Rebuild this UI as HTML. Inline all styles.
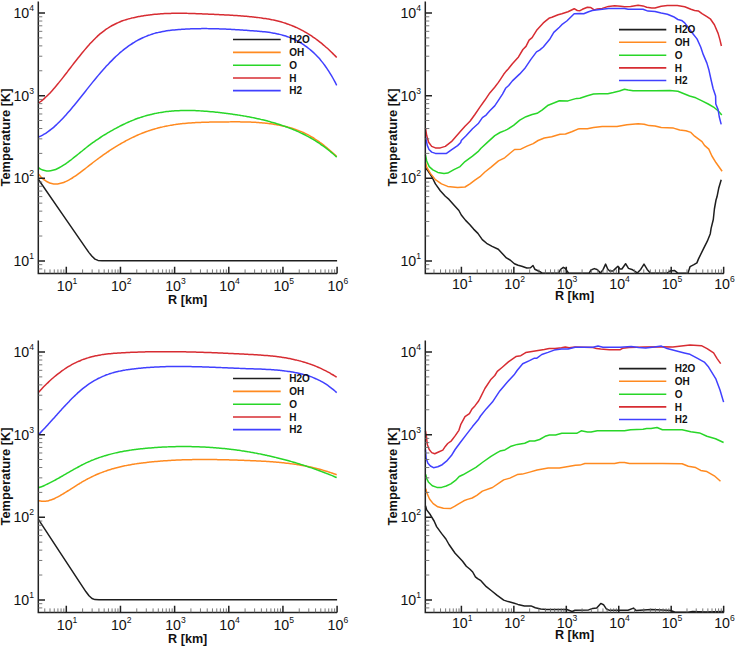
<!DOCTYPE html>
<html><head><meta charset="utf-8"><style>
html,body{margin:0;padding:0;background:#fff;}
body{width:735px;height:647px;overflow:hidden;}
svg{display:block;font-family:"Liberation Sans", sans-serif;}
</style></head><body>
<svg width="735" height="647" viewBox="0 0 735 647" fill="#111">
<path d="M38.3 179.2L62 213.6L86 248.4L89 252.6L92 256.3L95 259.1L98 260.4L102 260.7L337.1 260.7" fill="none" stroke="#1e1e1e" stroke-width="1.5" stroke-linejoin="round"/>
<path d="M38.7 174.33C39.03 174.72 40.03 175.93 40.7 176.64C41.37 177.35 42.03 178 42.7 178.59C43.37 179.19 44.03 179.73 44.7 180.22C45.37 180.7 46.03 181.14 46.7 181.52C47.37 181.91 48.03 182.24 48.7 182.53C49.37 182.82 50.03 183.06 50.7 183.26C51.37 183.46 52.03 183.61 52.7 183.72C53.37 183.83 54.03 183.9 54.7 183.94C55.37 183.97 56.03 183.97 56.7 183.93C57.37 183.89 58.03 183.81 58.7 183.71C59.37 183.6 60.03 183.46 60.7 183.3C61.37 183.13 62.03 182.93 62.7 182.71C63.37 182.49 64.03 182.24 64.7 181.96C65.37 181.69 66.03 181.39 66.7 181.08C67.37 180.76 68.03 180.43 68.7 180.07C69.37 179.72 70.03 179.34 70.7 178.95C71.37 178.57 72.03 178.16 72.7 177.74C73.37 177.32 74.03 176.88 74.7 176.44C75.37 175.99 76.03 175.53 76.7 175.06C77.37 174.59 78.03 174.11 78.7 173.62C79.37 173.13 80.03 172.63 80.7 172.13C81.37 171.63 82.03 171.12 82.7 170.6C83.37 170.09 84.03 169.56 84.7 169.04C85.37 168.52 86.03 167.99 86.7 167.47C87.37 166.94 88.03 166.41 88.7 165.89C89.37 165.36 90.03 164.84 90.7 164.32C91.37 163.8 92.03 163.28 92.7 162.76C93.37 162.25 94.03 161.74 94.7 161.23C95.37 160.73 96.03 160.23 96.7 159.73C97.37 159.23 98.03 158.74 98.7 158.25C99.37 157.76 100.03 157.28 100.7 156.8C101.37 156.32 102.03 155.84 102.7 155.37C103.37 154.9 104.03 154.43 104.7 153.97C105.37 153.5 106.03 153.05 106.7 152.59C107.37 152.14 108.03 151.69 108.7 151.25C109.37 150.8 110.03 150.36 110.7 149.93C111.37 149.49 112.03 149.06 112.7 148.64C113.37 148.21 114.03 147.79 114.7 147.38C115.37 146.96 116.03 146.55 116.7 146.15C117.37 145.74 118.03 145.34 118.7 144.94C119.37 144.55 120.03 144.16 120.7 143.77C121.37 143.39 122.03 143.01 122.7 142.63C123.37 142.26 124.03 141.89 124.7 141.52C125.37 141.16 126.03 140.8 126.7 140.45C127.37 140.09 128.03 139.74 128.7 139.4C129.37 139.06 130.03 138.72 130.7 138.39C131.37 138.05 132.03 137.73 132.7 137.41C133.37 137.08 134.03 136.77 134.7 136.46C135.37 136.15 136.03 135.85 136.7 135.55C137.37 135.25 138.03 134.96 138.7 134.67C139.37 134.38 140.03 134.1 140.7 133.82C141.37 133.55 142.03 133.28 142.7 133.02C143.37 132.75 144.03 132.5 144.7 132.24C145.37 131.99 146.03 131.75 146.7 131.51C147.37 131.27 148.03 131.04 148.7 130.81C149.37 130.58 150.03 130.36 150.7 130.14C151.37 129.93 152.03 129.72 152.7 129.52C153.37 129.31 154.03 129.11 154.7 128.92C155.37 128.73 156.03 128.54 156.7 128.36C157.37 128.18 158.03 128 158.7 127.83C159.37 127.66 160.03 127.49 160.7 127.33C161.37 127.17 162.03 127.01 162.7 126.86C163.37 126.71 164.03 126.57 164.7 126.42C165.37 126.28 166.03 126.14 166.7 126.01C167.37 125.88 168.03 125.75 168.7 125.63C169.37 125.5 170.03 125.39 170.7 125.27C171.37 125.16 172.03 125.04 172.7 124.94C173.37 124.83 174.03 124.73 174.7 124.63C175.37 124.53 176.03 124.44 176.7 124.34C177.37 124.25 178.03 124.17 178.7 124.08C179.37 124 180.03 123.92 180.7 123.84C181.37 123.76 182.03 123.69 182.7 123.62C183.37 123.55 184.03 123.48 184.7 123.42C185.37 123.35 186.03 123.29 186.7 123.23C187.37 123.17 188.03 123.12 188.7 123.07C189.37 123.01 190.03 122.96 190.7 122.92C191.37 122.87 192.03 122.82 192.7 122.78C193.37 122.74 194.03 122.7 194.7 122.66C195.37 122.62 196.03 122.59 196.7 122.55C197.37 122.52 198.03 122.49 198.7 122.46C199.37 122.43 200.03 122.4 200.7 122.38C201.37 122.35 202.03 122.33 202.7 122.3C203.37 122.28 204.03 122.26 204.7 122.24C205.37 122.22 206.03 122.2 206.7 122.19C207.37 122.17 208.03 122.15 208.7 122.14C209.37 122.13 210.03 122.11 210.7 122.1C211.37 122.09 212.03 122.08 212.7 122.07C213.37 122.05 214.03 122.04 214.7 122.04C215.37 122.03 216.03 122.02 216.7 122.01C217.37 122 218.03 121.99 218.7 121.98C219.37 121.98 220.03 121.97 220.7 121.96C221.37 121.96 222.03 121.95 222.7 121.94C223.37 121.93 224.03 121.93 224.7 121.92C225.37 121.91 226.03 121.91 226.7 121.9C227.37 121.89 228.03 121.89 228.7 121.88C229.37 121.88 230.03 121.87 230.7 121.87C231.37 121.86 232.03 121.86 232.7 121.86C233.37 121.86 234.03 121.85 234.7 121.85C235.37 121.85 236.03 121.85 236.7 121.85C237.37 121.86 238.03 121.86 238.7 121.86C239.37 121.87 240.03 121.87 240.7 121.88C241.37 121.89 242.03 121.9 242.7 121.91C243.37 121.92 244.03 121.93 244.7 121.94C245.37 121.96 246.03 121.97 246.7 121.99C247.37 122.01 248.03 122.03 248.7 122.05C249.37 122.07 250.03 122.1 250.7 122.12C251.37 122.15 252.03 122.18 252.7 122.21C253.37 122.24 254.03 122.28 254.7 122.31C255.37 122.35 256.03 122.39 256.7 122.43C257.37 122.48 258.03 122.52 258.7 122.57C259.37 122.62 260.03 122.67 260.7 122.72C261.37 122.78 262.03 122.84 262.7 122.9C263.37 122.96 264.03 123.02 264.7 123.09C265.37 123.16 266.03 123.23 266.7 123.31C267.37 123.38 268.03 123.46 268.7 123.54C269.37 123.63 270.03 123.71 270.7 123.8C271.37 123.89 272.03 123.99 272.7 124.09C273.37 124.19 274.03 124.29 274.7 124.4C275.37 124.51 276.03 124.62 276.7 124.73C277.37 124.85 278.03 124.97 278.7 125.1C279.37 125.22 280.03 125.35 280.7 125.49C281.37 125.62 282.03 125.76 282.7 125.91C283.37 126.05 284.03 126.2 284.7 126.36C285.37 126.52 286.03 126.68 286.7 126.84C287.37 127.01 288.03 127.18 288.7 127.36C289.37 127.54 290.03 127.72 290.7 127.91C291.37 128.11 292.03 128.3 292.7 128.51C293.37 128.72 294.03 128.93 294.7 129.15C295.37 129.37 296.03 129.6 296.7 129.84C297.37 130.08 298.03 130.33 298.7 130.58C299.37 130.84 300.03 131.1 300.7 131.38C301.37 131.65 302.03 131.94 302.7 132.23C303.37 132.53 304.03 132.83 304.7 133.15C305.37 133.46 306.03 133.79 306.7 134.13C307.37 134.47 308.03 134.82 308.7 135.18C309.37 135.54 310.03 135.92 310.7 136.3C311.37 136.69 312.03 137.09 312.7 137.5C313.37 137.91 314.03 138.33 314.7 138.76C315.37 139.19 316.03 139.64 316.7 140.09C317.37 140.54 318.03 141.01 318.7 141.48C319.37 141.96 320.03 142.45 320.7 142.94C321.37 143.44 322.03 143.94 322.7 144.46C323.37 144.97 324.03 145.5 324.7 146.03C325.37 146.56 326.03 147.1 326.7 147.66C327.37 148.21 328.03 148.77 328.7 149.33C329.37 149.9 330.03 150.48 330.7 151.06C331.37 151.64 332.03 152.23 332.7 152.83C333.37 153.43 334.03 154.04 334.7 154.65C335.37 155.26 336.37 156.2 336.7 156.51" fill="none" stroke="#ff8a20" stroke-width="1.5" stroke-linejoin="round"/>
<path d="M38.7 167.87C39.03 168.08 40.03 168.74 40.7 169.09C41.37 169.44 42.03 169.74 42.7 169.98C43.37 170.23 44.03 170.43 44.7 170.58C45.37 170.73 46.03 170.83 46.7 170.89C47.37 170.95 48.03 170.97 48.7 170.95C49.37 170.92 50.03 170.86 50.7 170.76C51.37 170.66 52.03 170.52 52.7 170.35C53.37 170.18 54.03 169.98 54.7 169.74C55.37 169.51 56.03 169.25 56.7 168.96C57.37 168.67 58.03 168.35 58.7 168.01C59.37 167.67 60.03 167.3 60.7 166.92C61.37 166.54 62.03 166.13 62.7 165.71C63.37 165.29 64.03 164.85 64.7 164.4C65.37 163.95 66.03 163.48 66.7 163.01C67.37 162.54 68.03 162.05 68.7 161.56C69.37 161.07 70.03 160.56 70.7 160.06C71.37 159.55 72.03 159.03 72.7 158.51C73.37 157.99 74.03 157.47 74.7 156.94C75.37 156.41 76.03 155.87 76.7 155.34C77.37 154.8 78.03 154.26 78.7 153.72C79.37 153.18 80.03 152.64 80.7 152.1C81.37 151.56 82.03 151.01 82.7 150.48C83.37 149.94 84.03 149.4 84.7 148.87C85.37 148.33 86.03 147.8 86.7 147.28C87.37 146.75 88.03 146.23 88.7 145.72C89.37 145.2 90.03 144.69 90.7 144.19C91.37 143.69 92.03 143.2 92.7 142.72C93.37 142.23 94.03 141.76 94.7 141.29C95.37 140.82 96.03 140.36 96.7 139.9C97.37 139.45 98.03 139 98.7 138.56C99.37 138.12 100.03 137.68 100.7 137.26C101.37 136.83 102.03 136.41 102.7 135.99C103.37 135.57 104.03 135.16 104.7 134.75C105.37 134.34 106.03 133.94 106.7 133.55C107.37 133.15 108.03 132.75 108.7 132.36C109.37 131.97 110.03 131.59 110.7 131.21C111.37 130.82 112.03 130.44 112.7 130.07C113.37 129.69 114.03 129.32 114.7 128.96C115.37 128.59 116.03 128.23 116.7 127.87C117.37 127.51 118.03 127.16 118.7 126.81C119.37 126.46 120.03 126.12 120.7 125.78C121.37 125.44 122.03 125.11 122.7 124.79C123.37 124.46 124.03 124.14 124.7 123.82C125.37 123.51 126.03 123.2 126.7 122.9C127.37 122.59 128.03 122.3 128.7 122.01C129.37 121.71 130.03 121.43 130.7 121.15C131.37 120.87 132.03 120.59 132.7 120.33C133.37 120.06 134.03 119.8 134.7 119.54C135.37 119.28 136.03 119.03 136.7 118.79C137.37 118.54 138.03 118.3 138.7 118.07C139.37 117.84 140.03 117.61 140.7 117.39C141.37 117.17 142.03 116.95 142.7 116.74C143.37 116.53 144.03 116.33 144.7 116.13C145.37 115.93 146.03 115.74 146.7 115.55C147.37 115.37 148.03 115.19 148.7 115.01C149.37 114.84 150.03 114.67 150.7 114.51C151.37 114.34 152.03 114.19 152.7 114.03C153.37 113.88 154.03 113.73 154.7 113.59C155.37 113.45 156.03 113.32 156.7 113.19C157.37 113.06 158.03 112.93 158.7 112.81C159.37 112.69 160.03 112.58 160.7 112.47C161.37 112.36 162.03 112.25 162.7 112.15C163.37 112.05 164.03 111.96 164.7 111.87C165.37 111.78 166.03 111.69 166.7 111.61C167.37 111.53 168.03 111.45 168.7 111.38C169.37 111.31 170.03 111.24 170.7 111.18C171.37 111.11 172.03 111.06 172.7 111C173.37 110.95 174.03 110.9 174.7 110.85C175.37 110.81 176.03 110.76 176.7 110.73C177.37 110.69 178.03 110.66 178.7 110.63C179.37 110.6 180.03 110.57 180.7 110.55C181.37 110.53 182.03 110.51 182.7 110.49C183.37 110.48 184.03 110.47 184.7 110.46C185.37 110.45 186.03 110.45 186.7 110.45C187.37 110.44 188.03 110.45 188.7 110.45C189.37 110.46 190.03 110.47 190.7 110.48C191.37 110.49 192.03 110.51 192.7 110.53C193.37 110.54 194.03 110.57 194.7 110.59C195.37 110.61 196.03 110.64 196.7 110.67C197.37 110.7 198.03 110.73 198.7 110.77C199.37 110.8 200.03 110.84 200.7 110.88C201.37 110.92 202.03 110.96 202.7 111.01C203.37 111.05 204.03 111.1 204.7 111.15C205.37 111.2 206.03 111.25 206.7 111.31C207.37 111.36 208.03 111.42 208.7 111.48C209.37 111.53 210.03 111.59 210.7 111.66C211.37 111.72 212.03 111.78 212.7 111.85C213.37 111.91 214.03 111.98 214.7 112.05C215.37 112.12 216.03 112.19 216.7 112.26C217.37 112.33 218.03 112.41 218.7 112.48C219.37 112.56 220.03 112.63 220.7 112.71C221.37 112.79 222.03 112.87 222.7 112.95C223.37 113.03 224.03 113.11 224.7 113.19C225.37 113.27 226.03 113.36 226.7 113.44C227.37 113.53 228.03 113.61 228.7 113.7C229.37 113.79 230.03 113.88 230.7 113.97C231.37 114.06 232.03 114.15 232.7 114.24C233.37 114.34 234.03 114.43 234.7 114.53C235.37 114.63 236.03 114.73 236.7 114.83C237.37 114.93 238.03 115.03 238.7 115.13C239.37 115.24 240.03 115.34 240.7 115.45C241.37 115.56 242.03 115.67 242.7 115.78C243.37 115.89 244.03 116.01 244.7 116.12C245.37 116.24 246.03 116.36 246.7 116.48C247.37 116.6 248.03 116.72 248.7 116.84C249.37 116.97 250.03 117.1 250.7 117.23C251.37 117.35 252.03 117.49 252.7 117.62C253.37 117.76 254.03 117.89 254.7 118.03C255.37 118.17 256.03 118.31 256.7 118.46C257.37 118.6 258.03 118.75 258.7 118.9C259.37 119.05 260.03 119.2 260.7 119.36C261.37 119.51 262.03 119.67 262.7 119.83C263.37 119.99 264.03 120.16 264.7 120.32C265.37 120.49 266.03 120.66 266.7 120.83C267.37 121.01 268.03 121.18 268.7 121.36C269.37 121.54 270.03 121.72 270.7 121.91C271.37 122.09 272.03 122.28 272.7 122.47C273.37 122.67 274.03 122.86 274.7 123.06C275.37 123.26 276.03 123.46 276.7 123.67C277.37 123.87 278.03 124.08 278.7 124.3C279.37 124.51 280.03 124.73 280.7 124.95C281.37 125.17 282.03 125.39 282.7 125.62C283.37 125.84 284.03 126.08 284.7 126.31C285.37 126.55 286.03 126.79 286.7 127.03C287.37 127.27 288.03 127.52 288.7 127.77C289.37 128.02 290.03 128.28 290.7 128.54C291.37 128.8 292.03 129.06 292.7 129.33C293.37 129.6 294.03 129.88 294.7 130.16C295.37 130.44 296.03 130.72 296.7 131.02C297.37 131.31 298.03 131.6 298.7 131.9C299.37 132.21 300.03 132.51 300.7 132.83C301.37 133.14 302.03 133.46 302.7 133.79C303.37 134.11 304.03 134.44 304.7 134.78C305.37 135.12 306.03 135.47 306.7 135.82C307.37 136.17 308.03 136.53 308.7 136.89C309.37 137.26 310.03 137.63 310.7 138.01C311.37 138.39 312.03 138.78 312.7 139.17C313.37 139.57 314.03 139.97 314.7 140.38C315.37 140.79 316.03 141.21 316.7 141.63C317.37 142.06 318.03 142.49 318.7 142.94C319.37 143.38 320.03 143.83 320.7 144.29C321.37 144.75 322.03 145.22 322.7 145.69C323.37 146.17 324.03 146.66 324.7 147.15C325.37 147.65 326.03 148.15 326.7 148.66C327.37 149.18 328.03 149.7 328.7 150.23C329.37 150.76 330.03 151.31 330.7 151.86C331.37 152.41 332.03 152.97 332.7 153.55C333.37 154.12 334.03 154.7 334.7 155.29C335.37 155.89 336.37 156.8 336.7 157.1" fill="none" stroke="#28d628" stroke-width="1.5" stroke-linejoin="round"/>
<path d="M38.7 102.97C39.03 102.73 40.03 102.02 40.7 101.51C41.37 101 42.03 100.46 42.7 99.9C43.37 99.34 44.03 98.76 44.7 98.15C45.37 97.55 46.03 96.92 46.7 96.28C47.37 95.63 48.03 94.96 48.7 94.28C49.37 93.59 50.03 92.89 50.7 92.17C51.37 91.45 52.03 90.72 52.7 89.97C53.37 89.22 54.03 88.45 54.7 87.68C55.37 86.9 56.03 86.11 56.7 85.31C57.37 84.51 58.03 83.69 58.7 82.87C59.37 82.05 60.03 81.22 60.7 80.38C61.37 79.54 62.03 78.7 62.7 77.85C63.37 77 64.03 76.14 64.7 75.28C65.37 74.42 66.03 73.55 66.7 72.68C67.37 71.82 68.03 70.94 68.7 70.07C69.37 69.2 70.03 68.33 70.7 67.46C71.37 66.59 72.03 65.73 72.7 64.86C73.37 64 74.03 63.13 74.7 62.27C75.37 61.42 76.03 60.56 76.7 59.71C77.37 58.87 78.03 58.02 78.7 57.19C79.37 56.35 80.03 55.52 80.7 54.7C81.37 53.87 82.03 53.06 82.7 52.25C83.37 51.45 84.03 50.65 84.7 49.86C85.37 49.08 86.03 48.3 86.7 47.53C87.37 46.76 88.03 46.01 88.7 45.26C89.37 44.52 90.03 43.79 90.7 43.07C91.37 42.35 92.03 41.65 92.7 40.96C93.37 40.27 94.03 39.59 94.7 38.93C95.37 38.27 96.03 37.62 96.7 36.99C97.37 36.37 98.03 35.75 98.7 35.16C99.37 34.56 100.03 33.99 100.7 33.43C101.37 32.87 102.03 32.33 102.7 31.81C103.37 31.29 104.03 30.79 104.7 30.3C105.37 29.82 106.03 29.35 106.7 28.89C107.37 28.44 108.03 28.01 108.7 27.59C109.37 27.17 110.03 26.76 110.7 26.37C111.37 25.98 112.03 25.61 112.7 25.25C113.37 24.89 114.03 24.54 114.7 24.21C115.37 23.88 116.03 23.56 116.7 23.25C117.37 22.94 118.03 22.65 118.7 22.37C119.37 22.08 120.03 21.81 120.7 21.55C121.37 21.29 122.03 21.04 122.7 20.8C123.37 20.56 124.03 20.34 124.7 20.12C125.37 19.9 126.03 19.69 126.7 19.48C127.37 19.28 128.03 19.09 128.7 18.9C129.37 18.72 130.03 18.54 130.7 18.37C131.37 18.2 132.03 18.04 132.7 17.88C133.37 17.72 134.03 17.57 134.7 17.43C135.37 17.28 136.03 17.14 136.7 17C137.37 16.87 138.03 16.74 138.7 16.61C139.37 16.48 140.03 16.36 140.7 16.24C141.37 16.12 142.03 16.01 142.7 15.9C143.37 15.79 144.03 15.69 144.7 15.58C145.37 15.48 146.03 15.39 146.7 15.29C147.37 15.2 148.03 15.11 148.7 15.02C149.37 14.94 150.03 14.85 150.7 14.77C151.37 14.7 152.03 14.62 152.7 14.55C153.37 14.48 154.03 14.41 154.7 14.35C155.37 14.28 156.03 14.22 156.7 14.16C157.37 14.1 158.03 14.05 158.7 14C159.37 13.95 160.03 13.9 160.7 13.85C161.37 13.81 162.03 13.76 162.7 13.73C163.37 13.69 164.03 13.65 164.7 13.62C165.37 13.58 166.03 13.55 166.7 13.52C167.37 13.49 168.03 13.47 168.7 13.45C169.37 13.42 170.03 13.4 170.7 13.38C171.37 13.37 172.03 13.35 172.7 13.34C173.37 13.32 174.03 13.31 174.7 13.3C175.37 13.3 176.03 13.29 176.7 13.28C177.37 13.28 178.03 13.28 178.7 13.28C179.37 13.28 180.03 13.28 180.7 13.28C181.37 13.28 182.03 13.29 182.7 13.29C183.37 13.3 184.03 13.31 184.7 13.32C185.37 13.33 186.03 13.34 186.7 13.35C187.37 13.37 188.03 13.38 188.7 13.4C189.37 13.41 190.03 13.43 190.7 13.45C191.37 13.46 192.03 13.48 192.7 13.5C193.37 13.52 194.03 13.55 194.7 13.57C195.37 13.59 196.03 13.61 196.7 13.64C197.37 13.66 198.03 13.69 198.7 13.71C199.37 13.74 200.03 13.77 200.7 13.79C201.37 13.82 202.03 13.85 202.7 13.88C203.37 13.9 204.03 13.93 204.7 13.96C205.37 13.99 206.03 14.02 206.7 14.05C207.37 14.08 208.03 14.11 208.7 14.14C209.37 14.17 210.03 14.2 210.7 14.23C211.37 14.26 212.03 14.29 212.7 14.32C213.37 14.35 214.03 14.38 214.7 14.41C215.37 14.44 216.03 14.47 216.7 14.5C217.37 14.53 218.03 14.56 218.7 14.6C219.37 14.63 220.03 14.66 220.7 14.69C221.37 14.72 222.03 14.76 222.7 14.79C223.37 14.82 224.03 14.86 224.7 14.89C225.37 14.93 226.03 14.96 226.7 15C227.37 15.03 228.03 15.07 228.7 15.11C229.37 15.14 230.03 15.18 230.7 15.22C231.37 15.26 232.03 15.3 232.7 15.34C233.37 15.38 234.03 15.42 234.7 15.46C235.37 15.51 236.03 15.55 236.7 15.6C237.37 15.64 238.03 15.69 238.7 15.74C239.37 15.78 240.03 15.83 240.7 15.88C241.37 15.93 242.03 15.98 242.7 16.04C243.37 16.09 244.03 16.14 244.7 16.2C245.37 16.25 246.03 16.31 246.7 16.37C247.37 16.43 248.03 16.49 248.7 16.55C249.37 16.61 250.03 16.68 250.7 16.74C251.37 16.81 252.03 16.87 252.7 16.94C253.37 17.01 254.03 17.08 254.7 17.15C255.37 17.23 256.03 17.3 256.7 17.38C257.37 17.46 258.03 17.54 258.7 17.62C259.37 17.7 260.03 17.79 260.7 17.87C261.37 17.96 262.03 18.05 262.7 18.15C263.37 18.24 264.03 18.34 264.7 18.45C265.37 18.55 266.03 18.65 266.7 18.76C267.37 18.87 268.03 18.99 268.7 19.11C269.37 19.23 270.03 19.35 270.7 19.48C271.37 19.61 272.03 19.74 272.7 19.88C273.37 20.02 274.03 20.16 274.7 20.31C275.37 20.46 276.03 20.61 276.7 20.77C277.37 20.94 278.03 21.1 278.7 21.27C279.37 21.45 280.03 21.63 280.7 21.81C281.37 22 282.03 22.19 282.7 22.39C283.37 22.59 284.03 22.8 284.7 23.01C285.37 23.22 286.03 23.44 286.7 23.67C287.37 23.9 288.03 24.14 288.7 24.38C289.37 24.63 290.03 24.88 290.7 25.14C291.37 25.4 292.03 25.67 292.7 25.94C293.37 26.22 294.03 26.5 294.7 26.79C295.37 27.08 296.03 27.38 296.7 27.69C297.37 28 298.03 28.32 298.7 28.64C299.37 28.97 300.03 29.3 300.7 29.65C301.37 29.99 302.03 30.34 302.7 30.7C303.37 31.06 304.03 31.43 304.7 31.81C305.37 32.19 306.03 32.57 306.7 32.97C307.37 33.36 308.03 33.77 308.7 34.18C309.37 34.6 310.03 35.02 310.7 35.46C311.37 35.89 312.03 36.33 312.7 36.78C313.37 37.24 314.03 37.7 314.7 38.17C315.37 38.64 316.03 39.12 316.7 39.61C317.37 40.11 318.03 40.61 318.7 41.12C319.37 41.63 320.03 42.15 320.7 42.68C321.37 43.21 322.03 43.76 322.7 44.31C323.37 44.86 324.03 45.42 324.7 45.99C325.37 46.57 326.03 47.15 326.7 47.75C327.37 48.34 328.03 48.94 328.7 49.56C329.37 50.18 330.03 50.8 330.7 51.44C331.37 52.08 332.03 52.73 332.7 53.39C333.37 54.04 334.03 54.72 334.7 55.4C335.37 56.08 336.37 57.13 336.7 57.48" fill="none" stroke="#d72c32" stroke-width="1.5" stroke-linejoin="round"/>
<path d="M38.7 136.92C39.03 136.78 40.03 136.37 40.7 136.06C41.37 135.75 42.03 135.41 42.7 135.05C43.37 134.69 44.03 134.31 44.7 133.91C45.37 133.5 46.03 133.08 46.7 132.63C47.37 132.18 48.03 131.72 48.7 131.23C49.37 130.74 50.03 130.23 50.7 129.71C51.37 129.18 52.03 128.64 52.7 128.08C53.37 127.52 54.03 126.94 54.7 126.34C55.37 125.75 56.03 125.13 56.7 124.51C57.37 123.88 58.03 123.24 58.7 122.58C59.37 121.92 60.03 121.25 60.7 120.57C61.37 119.88 62.03 119.19 62.7 118.48C63.37 117.77 64.03 117.05 64.7 116.31C65.37 115.58 66.03 114.84 66.7 114.09C67.37 113.33 68.03 112.57 68.7 111.8C69.37 111.03 70.03 110.25 70.7 109.46C71.37 108.67 72.03 107.88 72.7 107.07C73.37 106.27 74.03 105.46 74.7 104.65C75.37 103.84 76.03 103.02 76.7 102.19C77.37 101.37 78.03 100.54 78.7 99.71C79.37 98.88 80.03 98.04 80.7 97.21C81.37 96.37 82.03 95.53 82.7 94.69C83.37 93.85 84.03 93.01 84.7 92.17C85.37 91.33 86.03 90.49 86.7 89.65C87.37 88.81 88.03 87.97 88.7 87.13C89.37 86.3 90.03 85.46 90.7 84.63C91.37 83.8 92.03 82.97 92.7 82.15C93.37 81.33 94.03 80.51 94.7 79.7C95.37 78.88 96.03 78.07 96.7 77.27C97.37 76.47 98.03 75.68 98.7 74.89C99.37 74.11 100.03 73.33 100.7 72.55C101.37 71.78 102.03 71.02 102.7 70.26C103.37 69.51 104.03 68.76 104.7 68.02C105.37 67.29 106.03 66.56 106.7 65.84C107.37 65.12 108.03 64.4 108.7 63.7C109.37 63 110.03 62.31 110.7 61.63C111.37 60.94 112.03 60.27 112.7 59.61C113.37 58.95 114.03 58.3 114.7 57.66C115.37 57.01 116.03 56.38 116.7 55.77C117.37 55.15 118.03 54.54 118.7 53.94C119.37 53.35 120.03 52.76 120.7 52.19C121.37 51.62 122.03 51.06 122.7 50.51C123.37 49.97 124.03 49.43 124.7 48.91C125.37 48.39 126.03 47.88 126.7 47.38C127.37 46.89 128.03 46.4 128.7 45.93C129.37 45.46 130.03 45 130.7 44.56C131.37 44.11 132.03 43.68 132.7 43.25C133.37 42.83 134.03 42.42 134.7 42.02C135.37 41.63 136.03 41.24 136.7 40.86C137.37 40.49 138.03 40.13 138.7 39.77C139.37 39.42 140.03 39.08 140.7 38.75C141.37 38.42 142.03 38.1 142.7 37.8C143.37 37.49 144.03 37.19 144.7 36.91C145.37 36.62 146.03 36.35 146.7 36.08C147.37 35.82 148.03 35.56 148.7 35.32C149.37 35.07 150.03 34.84 150.7 34.61C151.37 34.39 152.03 34.18 152.7 33.97C153.37 33.76 154.03 33.57 154.7 33.38C155.37 33.19 156.03 33.02 156.7 32.85C157.37 32.68 158.03 32.51 158.7 32.36C159.37 32.21 160.03 32.06 160.7 31.92C161.37 31.78 162.03 31.65 162.7 31.52C163.37 31.4 164.03 31.28 164.7 31.17C165.37 31.05 166.03 30.95 166.7 30.85C167.37 30.75 168.03 30.65 168.7 30.56C169.37 30.47 170.03 30.39 170.7 30.31C171.37 30.23 172.03 30.15 172.7 30.08C173.37 30.01 174.03 29.94 174.7 29.88C175.37 29.81 176.03 29.76 176.7 29.7C177.37 29.64 178.03 29.59 178.7 29.54C179.37 29.49 180.03 29.44 180.7 29.39C181.37 29.35 182.03 29.3 182.7 29.26C183.37 29.22 184.03 29.18 184.7 29.14C185.37 29.1 186.03 29.07 186.7 29.03C187.37 29 188.03 28.97 188.7 28.94C189.37 28.91 190.03 28.89 190.7 28.86C191.37 28.84 192.03 28.81 192.7 28.79C193.37 28.77 194.03 28.75 194.7 28.73C195.37 28.72 196.03 28.7 196.7 28.69C197.37 28.67 198.03 28.66 198.7 28.65C199.37 28.64 200.03 28.64 200.7 28.63C201.37 28.62 202.03 28.62 202.7 28.61C203.37 28.61 204.03 28.61 204.7 28.61C205.37 28.61 206.03 28.61 206.7 28.62C207.37 28.62 208.03 28.63 208.7 28.63C209.37 28.64 210.03 28.65 210.7 28.66C211.37 28.67 212.03 28.68 212.7 28.69C213.37 28.71 214.03 28.72 214.7 28.74C215.37 28.75 216.03 28.77 216.7 28.79C217.37 28.8 218.03 28.82 218.7 28.85C219.37 28.87 220.03 28.89 220.7 28.91C221.37 28.94 222.03 28.96 222.7 28.99C223.37 29.01 224.03 29.04 224.7 29.07C225.37 29.1 226.03 29.13 226.7 29.16C227.37 29.19 228.03 29.22 228.7 29.25C229.37 29.28 230.03 29.32 230.7 29.35C231.37 29.39 232.03 29.42 232.7 29.46C233.37 29.5 234.03 29.53 234.7 29.57C235.37 29.61 236.03 29.65 236.7 29.69C237.37 29.73 238.03 29.77 238.7 29.81C239.37 29.86 240.03 29.9 240.7 29.94C241.37 29.99 242.03 30.03 242.7 30.07C243.37 30.12 244.03 30.16 244.7 30.21C245.37 30.26 246.03 30.3 246.7 30.35C247.37 30.4 248.03 30.45 248.7 30.5C249.37 30.54 250.03 30.59 250.7 30.64C251.37 30.69 252.03 30.74 252.7 30.79C253.37 30.84 254.03 30.89 254.7 30.95C255.37 31 256.03 31.05 256.7 31.1C257.37 31.16 258.03 31.21 258.7 31.27C259.37 31.32 260.03 31.38 260.7 31.44C261.37 31.51 262.03 31.57 262.7 31.64C263.37 31.7 264.03 31.77 264.7 31.85C265.37 31.92 266.03 32 266.7 32.08C267.37 32.16 268.03 32.25 268.7 32.34C269.37 32.43 270.03 32.53 270.7 32.63C271.37 32.73 272.03 32.84 272.7 32.95C273.37 33.06 274.03 33.18 274.7 33.31C275.37 33.44 276.03 33.57 276.7 33.71C277.37 33.85 278.03 34 278.7 34.15C279.37 34.31 280.03 34.47 280.7 34.64C281.37 34.81 282.03 34.99 282.7 35.18C283.37 35.37 284.03 35.57 284.7 35.78C285.37 35.99 286.03 36.2 286.7 36.43C287.37 36.66 288.03 36.9 288.7 37.15C289.37 37.4 290.03 37.66 290.7 37.93C291.37 38.2 292.03 38.49 292.7 38.78C293.37 39.08 294.03 39.38 294.7 39.7C295.37 40.02 296.03 40.36 296.7 40.7C297.37 41.05 298.03 41.41 298.7 41.78C299.37 42.15 300.03 42.54 300.7 42.94C301.37 43.34 302.03 43.76 302.7 44.19C303.37 44.62 304.03 45.07 304.7 45.53C305.37 45.99 306.03 46.47 306.7 46.96C307.37 47.46 308.03 47.97 308.7 48.49C309.37 49.02 310.03 49.56 310.7 50.13C311.37 50.69 312.03 51.27 312.7 51.87C313.37 52.47 314.03 53.09 314.7 53.73C315.37 54.37 316.03 55.04 316.7 55.72C317.37 56.41 318.03 57.12 318.7 57.86C319.37 58.6 320.03 59.36 320.7 60.15C321.37 60.94 322.03 61.76 322.7 62.61C323.37 63.45 324.03 64.33 324.7 65.24C325.37 66.15 326.03 67.08 326.7 68.06C327.37 69.03 328.03 70.03 328.7 71.07C329.37 72.11 330.03 73.19 330.7 74.3C331.37 75.41 332.03 76.56 332.7 77.75C333.37 78.94 334.03 80.16 334.7 81.43C335.37 82.69 336.37 84.7 336.7 85.35" fill="none" stroke="#4040ff" stroke-width="1.5" stroke-linejoin="round"/>
<path d="M425.5 167.8L427.9 170.9L431.7 176.5L435.4 183.9L440.3 190.7L445.3 196.3L449 199.4L453.9 204.9L458.9 210.5L461.3 215L465.6 220.4L469.9 224.7L473.6 229.1L477.9 233.4L482.3 239.6L486.6 243.3L492.1 246.4L498.3 249.2L502 253.2L506.4 257.9L510.1 260L514.4 263.7L518.1 265.3L521.8 266.2L526.8 268L530.5 267.8L533 265.5L534.8 269.2L537.9 270.7L540 271.7L542.5 273.3L558.4 273.3L560.5 269.5L563.3 267.3L565.5 268.5L567 271L568.6 273.3L589 273.3L591 270L594.3 268.6L597 269.5L599.2 271.5L600.3 273.3L603.2 269.4L605.6 264.1L607.7 269L609.7 271L613 271L615.4 268.6L617.9 266.3L619.9 269L621.9 269L625.6 263.7L628.5 268.4L632.6 269.8L635.8 271.8L637 273.3L640.7 269.4L644 264.1L647.2 269.4L650.5 273.3L666.9 273.3L669.9 271.1L674.4 270.4L678.1 273.3L687.9 273.3L690.1 266.6L693.9 264.7L696.9 262.9L698.4 259.1L702.8 250.1L707.3 241.2L710.3 233.7L711.1 228.4L713.3 219.5L714.4 209L716 200L717 196.8L718.7 188.3L721.2 179.8" fill="none" stroke="#1e1e1e" stroke-width="1.5" stroke-linejoin="round"/>
<path d="M425.5 162.3L426.7 167.2L430.4 173.4L435.4 179.6L441.5 183.9L447.7 186.4L457.6 187.6L465 187L470 183.9L474.9 180.2L480 176.7L484.9 172L491.1 167.1L498.5 160.9L504.7 157.8L509.7 153.5L514.6 149.5L520.8 149.2L527 146.1L533.2 143.6L538.1 140.5L544.3 138L551.7 136.8L560 134.3L565.5 134L571.7 131.8L577.9 129.1L580 128.7L587.4 128.7L593.5 127.5L602.2 126.6L617 126.6L626.9 124.7L638.1 123.8L644.2 124.2L649.2 125.6L655 126.1L661.2 127.5L673.5 128.1L679.7 130L685.9 130.8L690.9 132.4L694.6 136.2L702 141.7L704.5 145.4L708.8 149.1L711.9 156L716.1 162.8L722.1 171.3" fill="none" stroke="#ff8a20" stroke-width="1.5" stroke-linejoin="round"/>
<path d="M425.5 154.8L426.7 161L429.2 166.6L432.9 169.9L437.8 172.4L444 173.4L447.7 173.1L453.9 169.7L460.1 166.6L465 161.6L472.5 156.1L478.6 151.1L481 148.3L487.4 142.4L494.8 135.6L500 132.5L504.7 130.6L507.4 129.4L513.6 125.4L519.8 120.1L526 116.7L532.1 114.5L537.1 113.3L542 110.2L548.2 105.2L554.4 102.8L559.4 100.7L568 100.9L573 99.4L576.7 98.4L579.9 98.2L587.4 95.7L593.5 94.1L599.7 93.7L607.8 93.7L613.3 92.5L619.5 91L624.5 89.2L628.2 90L633.1 90.8L655 90.8L669.8 90.4L677.9 91.3L683.4 93.5L689.6 96L695.8 97.8L702 100.9L708.2 104L714.4 107.7L718.1 110.8L721.8 115.1" fill="none" stroke="#28d628" stroke-width="1.5" stroke-linejoin="round"/>
<path d="M425.5 128.1L426.7 135.5L428.6 142.3L431.7 146.4L435.4 147.9L440.3 147.9L445.3 146.4L451.4 141.7L455.1 137.4L460.1 131.8L465 126.3L470 121.3L474.9 114.5L479.9 107.1L484.8 100.3L489.8 92.9L494.7 87.3L498.4 82.4L500.6 79.1L503.7 74.3L506.2 71.1L508 69.3L512.4 63.7L518.5 56.9L522.9 49.5L526 46.4L529.1 40.2L532.1 37.7L537.1 29.7L543.3 22.9L549.5 17.9L551.9 17.3L558.1 14.8L561.8 13.8L568 11.7L574.2 8.7L577.3 10.5L580 10.7L582.4 9.3L587.4 7.2L590.5 7.4L594.2 9.9L597.3 8.9L602.2 8.4L608.4 6.4L614.6 5.8L620.7 6.2L624.5 6.8L630.6 6.4L638.1 5.3L643 5.9L646.7 7.2L651.7 8L655 8L661.2 6.2L667.4 5.6L677.3 5.6L684.7 6.8L690.9 9.3L694.6 10.5L698.3 10.9L702 13.6L706.9 16.7L710.6 19.2L714.4 24.7L718.1 33.4L719.9 39.6L721.4 46" fill="none" stroke="#d72c32" stroke-width="1.5" stroke-linejoin="round"/>
<path d="M425.5 136.8L427.3 145.4L429 149.5L431.7 152.1L435.4 153.4L446.5 153.4L451.4 149.9L457.6 145.6L460.7 142.5L461.3 140.5L466.3 135.5L472.5 128.7L478.6 123.2L482.4 117.6L486.1 115.1L489.8 110.8L494.7 105.9L498.4 100.3L502.5 94.1L505.6 88.3L508.7 85.5L512.4 80.9L516.1 77.4L519.8 73.9L524.7 68.6L530.9 59.4L536.5 51.9L539.6 50.1L543.3 47L549.5 39.6L553.8 32.4L559.4 27.2L561.8 24.7L566.8 21L574.2 13.8L580 13.6L583.7 13.8L588.6 11.7L592.3 10.5L596 10.1L602.2 9.3L608.4 8.4L624.5 8.4L628.2 9.3L643 9.3L648 11.1L655 11.6L661.2 13L667.4 14.2L673.5 16.7L677.9 19.5L681.6 20.4L684.7 22.9L688.4 27.8L692.1 32.8L697 38.9L700.7 47L703.2 54.4L706.9 63.1L709 70.3L711 79.5L713.1 88.5L715.6 96L715.8 104L718.1 109.6L719.3 117L721.2 124.4" fill="none" stroke="#4040ff" stroke-width="1.5" stroke-linejoin="round"/>
<path d="M38.4 519.3L60 552.3L83 587.4L86 591.8L89 595.7L92 598.5L95 599.6L99 599.8L337.1 599.8" fill="none" stroke="#1e1e1e" stroke-width="1.5" stroke-linejoin="round"/>
<path d="M38.7 500.54C39.03 500.62 40.03 500.92 40.7 501.04C41.37 501.17 42.03 501.25 42.7 501.29C43.37 501.33 44.03 501.32 44.7 501.29C45.37 501.25 46.03 501.17 46.7 501.07C47.37 500.96 48.03 500.82 48.7 500.65C49.37 500.49 50.03 500.28 50.7 500.06C51.37 499.84 52.03 499.59 52.7 499.32C53.37 499.05 54.03 498.76 54.7 498.45C55.37 498.14 56.03 497.81 56.7 497.46C57.37 497.12 58.03 496.76 58.7 496.4C59.37 496.03 60.03 495.65 60.7 495.27C61.37 494.88 62.03 494.49 62.7 494.1C63.37 493.7 64.03 493.29 64.7 492.89C65.37 492.48 66.03 492.07 66.7 491.65C67.37 491.24 68.03 490.82 68.7 490.4C69.37 489.98 70.03 489.56 70.7 489.14C71.37 488.71 72.03 488.29 72.7 487.87C73.37 487.44 74.03 487.02 74.7 486.6C75.37 486.17 76.03 485.75 76.7 485.34C77.37 484.92 78.03 484.5 78.7 484.09C79.37 483.68 80.03 483.27 80.7 482.87C81.37 482.47 82.03 482.07 82.7 481.68C83.37 481.29 84.03 480.91 84.7 480.53C85.37 480.15 86.03 479.78 86.7 479.42C87.37 479.06 88.03 478.7 88.7 478.36C89.37 478.01 90.03 477.67 90.7 477.34C91.37 477.01 92.03 476.69 92.7 476.37C93.37 476.05 94.03 475.74 94.7 475.44C95.37 475.14 96.03 474.84 96.7 474.55C97.37 474.26 98.03 473.98 98.7 473.7C99.37 473.43 100.03 473.16 100.7 472.9C101.37 472.63 102.03 472.38 102.7 472.13C103.37 471.88 104.03 471.63 104.7 471.39C105.37 471.16 106.03 470.92 106.7 470.7C107.37 470.47 108.03 470.25 108.7 470.04C109.37 469.82 110.03 469.61 110.7 469.41C111.37 469.2 112.03 469 112.7 468.81C113.37 468.62 114.03 468.43 114.7 468.25C115.37 468.06 116.03 467.88 116.7 467.71C117.37 467.54 118.03 467.37 118.7 467.2C119.37 467.04 120.03 466.88 120.7 466.72C121.37 466.57 122.03 466.42 122.7 466.27C123.37 466.12 124.03 465.98 124.7 465.84C125.37 465.7 126.03 465.57 126.7 465.44C127.37 465.31 128.03 465.18 128.7 465.06C129.37 464.93 130.03 464.81 130.7 464.7C131.37 464.58 132.03 464.47 132.7 464.36C133.37 464.25 134.03 464.14 134.7 464.03C135.37 463.93 136.03 463.83 136.7 463.73C137.37 463.63 138.03 463.54 138.7 463.44C139.37 463.35 140.03 463.26 140.7 463.17C141.37 463.08 142.03 463 142.7 462.91C143.37 462.83 144.03 462.75 144.7 462.67C145.37 462.59 146.03 462.51 146.7 462.44C147.37 462.36 148.03 462.29 148.7 462.22C149.37 462.14 150.03 462.07 150.7 462C151.37 461.94 152.03 461.87 152.7 461.8C153.37 461.74 154.03 461.67 154.7 461.61C155.37 461.55 156.03 461.49 156.7 461.43C157.37 461.37 158.03 461.31 158.7 461.26C159.37 461.2 160.03 461.15 160.7 461.09C161.37 461.04 162.03 460.99 162.7 460.94C163.37 460.89 164.03 460.84 164.7 460.79C165.37 460.75 166.03 460.7 166.7 460.66C167.37 460.61 168.03 460.57 168.7 460.53C169.37 460.49 170.03 460.45 170.7 460.41C171.37 460.37 172.03 460.34 172.7 460.3C173.37 460.26 174.03 460.23 174.7 460.2C175.37 460.16 176.03 460.13 176.7 460.1C177.37 460.07 178.03 460.04 178.7 460.02C179.37 459.99 180.03 459.96 180.7 459.94C181.37 459.91 182.03 459.89 182.7 459.87C183.37 459.84 184.03 459.82 184.7 459.8C185.37 459.78 186.03 459.76 186.7 459.74C187.37 459.73 188.03 459.71 188.7 459.69C189.37 459.68 190.03 459.66 190.7 459.65C191.37 459.64 192.03 459.62 192.7 459.61C193.37 459.6 194.03 459.59 194.7 459.58C195.37 459.57 196.03 459.56 196.7 459.56C197.37 459.55 198.03 459.54 198.7 459.54C199.37 459.53 200.03 459.53 200.7 459.53C201.37 459.52 202.03 459.52 202.7 459.52C203.37 459.52 204.03 459.52 204.7 459.52C205.37 459.52 206.03 459.52 206.7 459.52C207.37 459.52 208.03 459.53 208.7 459.53C209.37 459.54 210.03 459.54 210.7 459.55C211.37 459.55 212.03 459.56 212.7 459.57C213.37 459.57 214.03 459.58 214.7 459.59C215.37 459.6 216.03 459.61 216.7 459.62C217.37 459.63 218.03 459.64 218.7 459.65C219.37 459.66 220.03 459.67 220.7 459.69C221.37 459.7 222.03 459.71 222.7 459.73C223.37 459.74 224.03 459.76 224.7 459.77C225.37 459.79 226.03 459.81 226.7 459.82C227.37 459.84 228.03 459.86 228.7 459.87C229.37 459.89 230.03 459.91 230.7 459.93C231.37 459.95 232.03 459.97 232.7 459.99C233.37 460.01 234.03 460.03 234.7 460.05C235.37 460.07 236.03 460.09 236.7 460.11C237.37 460.14 238.03 460.16 238.7 460.18C239.37 460.2 240.03 460.23 240.7 460.25C241.37 460.27 242.03 460.3 242.7 460.32C243.37 460.35 244.03 460.37 244.7 460.4C245.37 460.42 246.03 460.45 246.7 460.47C247.37 460.5 248.03 460.52 248.7 460.55C249.37 460.58 250.03 460.6 250.7 460.63C251.37 460.66 252.03 460.69 252.7 460.71C253.37 460.74 254.03 460.77 254.7 460.8C255.37 460.83 256.03 460.86 256.7 460.89C257.37 460.92 258.03 460.95 258.7 460.99C259.37 461.02 260.03 461.05 260.7 461.09C261.37 461.12 262.03 461.16 262.7 461.19C263.37 461.23 264.03 461.27 264.7 461.31C265.37 461.35 266.03 461.39 266.7 461.43C267.37 461.47 268.03 461.51 268.7 461.56C269.37 461.6 270.03 461.64 270.7 461.69C271.37 461.74 272.03 461.79 272.7 461.84C273.37 461.89 274.03 461.94 274.7 461.99C275.37 462.05 276.03 462.1 276.7 462.16C277.37 462.21 278.03 462.27 278.7 462.33C279.37 462.39 280.03 462.46 280.7 462.52C281.37 462.58 282.03 462.65 282.7 462.72C283.37 462.79 284.03 462.86 284.7 462.93C285.37 463 286.03 463.08 286.7 463.16C287.37 463.23 288.03 463.31 288.7 463.39C289.37 463.48 290.03 463.56 290.7 463.65C291.37 463.73 292.03 463.82 292.7 463.91C293.37 464.01 294.03 464.1 294.7 464.2C295.37 464.3 296.03 464.4 296.7 464.5C297.37 464.6 298.03 464.71 298.7 464.81C299.37 464.92 300.03 465.03 300.7 465.15C301.37 465.26 302.03 465.38 302.7 465.5C303.37 465.62 304.03 465.74 304.7 465.87C305.37 466 306.03 466.13 306.7 466.26C307.37 466.39 308.03 466.53 308.7 466.67C309.37 466.81 310.03 466.95 310.7 467.1C311.37 467.24 312.03 467.39 312.7 467.55C313.37 467.7 314.03 467.86 314.7 468.02C315.37 468.18 316.03 468.34 316.7 468.51C317.37 468.68 318.03 468.85 318.7 469.03C319.37 469.21 320.03 469.39 320.7 469.57C321.37 469.75 322.03 469.94 322.7 470.13C323.37 470.33 324.03 470.52 324.7 470.72C325.37 470.92 326.03 471.13 326.7 471.34C327.37 471.54 328.03 471.76 328.7 471.98C329.37 472.19 330.03 472.41 330.7 472.64C331.37 472.87 332.03 473.1 332.7 473.33C333.37 473.57 334.03 473.81 334.7 474.05C335.37 474.3 336.37 474.68 336.7 474.8" fill="none" stroke="#ff8a20" stroke-width="1.5" stroke-linejoin="round"/>
<path d="M38.7 487.78C39.03 487.66 40.03 487.29 40.7 487.03C41.37 486.76 42.03 486.49 42.7 486.21C43.37 485.93 44.03 485.63 44.7 485.33C45.37 485.04 46.03 484.73 46.7 484.41C47.37 484.09 48.03 483.77 48.7 483.44C49.37 483.11 50.03 482.77 50.7 482.43C51.37 482.08 52.03 481.73 52.7 481.38C53.37 481.03 54.03 480.67 54.7 480.3C55.37 479.94 56.03 479.57 56.7 479.2C57.37 478.83 58.03 478.45 58.7 478.07C59.37 477.7 60.03 477.32 60.7 476.94C61.37 476.55 62.03 476.17 62.7 475.79C63.37 475.4 64.03 475.02 64.7 474.63C65.37 474.24 66.03 473.86 66.7 473.47C67.37 473.09 68.03 472.7 68.7 472.32C69.37 471.93 70.03 471.55 70.7 471.17C71.37 470.79 72.03 470.41 72.7 470.03C73.37 469.65 74.03 469.28 74.7 468.9C75.37 468.53 76.03 468.16 76.7 467.8C77.37 467.43 78.03 467.07 78.7 466.72C79.37 466.36 80.03 466.01 80.7 465.66C81.37 465.31 82.03 464.97 82.7 464.63C83.37 464.3 84.03 463.97 84.7 463.64C85.37 463.32 86.03 463 86.7 462.69C87.37 462.38 88.03 462.08 88.7 461.78C89.37 461.48 90.03 461.19 90.7 460.91C91.37 460.62 92.03 460.35 92.7 460.07C93.37 459.8 94.03 459.54 94.7 459.28C95.37 459.02 96.03 458.76 96.7 458.52C97.37 458.27 98.03 458.03 98.7 457.79C99.37 457.55 100.03 457.32 100.7 457.1C101.37 456.87 102.03 456.65 102.7 456.44C103.37 456.23 104.03 456.02 104.7 455.81C105.37 455.61 106.03 455.41 106.7 455.22C107.37 455.03 108.03 454.84 108.7 454.65C109.37 454.47 110.03 454.29 110.7 454.12C111.37 453.94 112.03 453.77 112.7 453.61C113.37 453.44 114.03 453.28 114.7 453.13C115.37 452.97 116.03 452.82 116.7 452.67C117.37 452.52 118.03 452.38 118.7 452.24C119.37 452.1 120.03 451.97 120.7 451.83C121.37 451.7 122.03 451.58 122.7 451.45C123.37 451.33 124.03 451.21 124.7 451.09C125.37 450.97 126.03 450.86 126.7 450.75C127.37 450.64 128.03 450.53 128.7 450.43C129.37 450.32 130.03 450.22 130.7 450.12C131.37 450.03 132.03 449.93 132.7 449.84C133.37 449.75 134.03 449.66 134.7 449.57C135.37 449.49 136.03 449.4 136.7 449.32C137.37 449.24 138.03 449.16 138.7 449.08C139.37 449.01 140.03 448.93 140.7 448.86C141.37 448.79 142.03 448.72 142.7 448.65C143.37 448.58 144.03 448.52 144.7 448.45C145.37 448.39 146.03 448.33 146.7 448.26C147.37 448.2 148.03 448.14 148.7 448.09C149.37 448.03 150.03 447.97 150.7 447.92C151.37 447.86 152.03 447.81 152.7 447.76C153.37 447.71 154.03 447.66 154.7 447.61C155.37 447.56 156.03 447.51 156.7 447.47C157.37 447.42 158.03 447.38 158.7 447.34C159.37 447.3 160.03 447.26 160.7 447.22C161.37 447.18 162.03 447.14 162.7 447.11C163.37 447.07 164.03 447.04 164.7 447.01C165.37 446.97 166.03 446.94 166.7 446.92C167.37 446.89 168.03 446.86 168.7 446.83C169.37 446.81 170.03 446.78 170.7 446.76C171.37 446.74 172.03 446.72 172.7 446.7C173.37 446.68 174.03 446.66 174.7 446.65C175.37 446.63 176.03 446.62 176.7 446.61C177.37 446.59 178.03 446.58 178.7 446.57C179.37 446.56 180.03 446.56 180.7 446.55C181.37 446.55 182.03 446.54 182.7 446.54C183.37 446.54 184.03 446.54 184.7 446.54C185.37 446.54 186.03 446.54 186.7 446.54C187.37 446.55 188.03 446.55 188.7 446.56C189.37 446.57 190.03 446.58 190.7 446.59C191.37 446.6 192.03 446.61 192.7 446.63C193.37 446.64 194.03 446.66 194.7 446.67C195.37 446.69 196.03 446.71 196.7 446.73C197.37 446.75 198.03 446.78 198.7 446.8C199.37 446.82 200.03 446.85 200.7 446.88C201.37 446.91 202.03 446.94 202.7 446.97C203.37 447 204.03 447.03 204.7 447.07C205.37 447.1 206.03 447.14 206.7 447.18C207.37 447.21 208.03 447.25 208.7 447.29C209.37 447.34 210.03 447.38 210.7 447.42C211.37 447.47 212.03 447.52 212.7 447.56C213.37 447.61 214.03 447.66 214.7 447.71C215.37 447.77 216.03 447.82 216.7 447.88C217.37 447.93 218.03 447.99 218.7 448.05C219.37 448.11 220.03 448.17 220.7 448.23C221.37 448.29 222.03 448.35 222.7 448.42C223.37 448.49 224.03 448.55 224.7 448.62C225.37 448.69 226.03 448.76 226.7 448.84C227.37 448.91 228.03 448.98 228.7 449.06C229.37 449.14 230.03 449.21 230.7 449.29C231.37 449.37 232.03 449.46 232.7 449.54C233.37 449.62 234.03 449.71 234.7 449.8C235.37 449.88 236.03 449.97 236.7 450.06C237.37 450.15 238.03 450.24 238.7 450.34C239.37 450.43 240.03 450.53 240.7 450.63C241.37 450.72 242.03 450.82 242.7 450.92C243.37 451.03 244.03 451.13 244.7 451.23C245.37 451.34 246.03 451.45 246.7 451.55C247.37 451.66 248.03 451.77 248.7 451.88C249.37 452 250.03 452.11 250.7 452.23C251.37 452.34 252.03 452.46 252.7 452.58C253.37 452.7 254.03 452.82 254.7 452.94C255.37 453.07 256.03 453.19 256.7 453.32C257.37 453.44 258.03 453.57 258.7 453.7C259.37 453.83 260.03 453.96 260.7 454.1C261.37 454.23 262.03 454.37 262.7 454.51C263.37 454.64 264.03 454.78 264.7 454.92C265.37 455.07 266.03 455.21 266.7 455.35C267.37 455.5 268.03 455.65 268.7 455.79C269.37 455.94 270.03 456.09 270.7 456.25C271.37 456.4 272.03 456.55 272.7 456.71C273.37 456.87 274.03 457.02 274.7 457.18C275.37 457.34 276.03 457.5 276.7 457.67C277.37 457.83 278.03 458 278.7 458.16C279.37 458.33 280.03 458.5 280.7 458.67C281.37 458.84 282.03 459.02 282.7 459.19C283.37 459.37 284.03 459.54 284.7 459.72C285.37 459.9 286.03 460.08 286.7 460.26C287.37 460.45 288.03 460.63 288.7 460.82C289.37 461 290.03 461.19 290.7 461.38C291.37 461.57 292.03 461.76 292.7 461.96C293.37 462.15 294.03 462.35 294.7 462.54C295.37 462.74 296.03 462.94 296.7 463.14C297.37 463.34 298.03 463.55 298.7 463.75C299.37 463.96 300.03 464.16 300.7 464.37C301.37 464.58 302.03 464.79 302.7 465.01C303.37 465.22 304.03 465.43 304.7 465.65C305.37 465.87 306.03 466.09 306.7 466.31C307.37 466.53 308.03 466.75 308.7 466.98C309.37 467.2 310.03 467.43 310.7 467.66C311.37 467.88 312.03 468.11 312.7 468.35C313.37 468.58 314.03 468.81 314.7 469.05C315.37 469.29 316.03 469.52 316.7 469.76C317.37 470 318.03 470.25 318.7 470.49C319.37 470.73 320.03 470.98 320.7 471.23C321.37 471.48 322.03 471.73 322.7 471.98C323.37 472.23 324.03 472.48 324.7 472.74C325.37 473 326.03 473.25 326.7 473.51C327.37 473.77 328.03 474.04 328.7 474.3C329.37 474.56 330.03 474.83 330.7 475.1C331.37 475.36 332.03 475.63 332.7 475.91C333.37 476.18 334.03 476.45 334.7 476.73C335.37 477 336.37 477.42 336.7 477.56" fill="none" stroke="#28d628" stroke-width="1.5" stroke-linejoin="round"/>
<path d="M38.7 392.21C39.03 391.84 40.03 390.72 40.7 389.99C41.37 389.27 42.03 388.55 42.7 387.85C43.37 387.15 44.03 386.46 44.7 385.78C45.37 385.1 46.03 384.44 46.7 383.79C47.37 383.13 48.03 382.49 48.7 381.86C49.37 381.23 50.03 380.61 50.7 380.01C51.37 379.4 52.03 378.81 52.7 378.23C53.37 377.65 54.03 377.08 54.7 376.52C55.37 375.96 56.03 375.41 56.7 374.88C57.37 374.34 58.03 373.82 58.7 373.3C59.37 372.79 60.03 372.29 60.7 371.8C61.37 371.31 62.03 370.83 62.7 370.37C63.37 369.9 64.03 369.45 64.7 369C65.37 368.56 66.03 368.12 66.7 367.7C67.37 367.28 68.03 366.87 68.7 366.47C69.37 366.07 70.03 365.68 70.7 365.3C71.37 364.92 72.03 364.56 72.7 364.2C73.37 363.84 74.03 363.5 74.7 363.16C75.37 362.83 76.03 362.51 76.7 362.19C77.37 361.88 78.03 361.58 78.7 361.28C79.37 360.99 80.03 360.71 80.7 360.44C81.37 360.17 82.03 359.91 82.7 359.66C83.37 359.4 84.03 359.16 84.7 358.93C85.37 358.7 86.03 358.47 86.7 358.26C87.37 358.05 88.03 357.84 88.7 357.64C89.37 357.45 90.03 357.26 90.7 357.08C91.37 356.9 92.03 356.73 92.7 356.56C93.37 356.4 94.03 356.24 94.7 356.09C95.37 355.94 96.03 355.8 96.7 355.66C97.37 355.52 98.03 355.39 98.7 355.27C99.37 355.15 100.03 355.03 100.7 354.92C101.37 354.81 102.03 354.7 102.7 354.6C103.37 354.5 104.03 354.41 104.7 354.32C105.37 354.23 106.03 354.14 106.7 354.06C107.37 353.98 108.03 353.9 108.7 353.83C109.37 353.76 110.03 353.69 110.7 353.63C111.37 353.56 112.03 353.5 112.7 353.44C113.37 353.39 114.03 353.33 114.7 353.28C115.37 353.23 116.03 353.18 116.7 353.13C117.37 353.09 118.03 353.04 118.7 353C119.37 352.96 120.03 352.92 120.7 352.88C121.37 352.84 122.03 352.8 122.7 352.76C123.37 352.73 124.03 352.69 124.7 352.65C125.37 352.62 126.03 352.59 126.7 352.55C127.37 352.52 128.03 352.49 128.7 352.46C129.37 352.43 130.03 352.4 130.7 352.37C131.37 352.34 132.03 352.31 132.7 352.28C133.37 352.26 134.03 352.23 134.7 352.2C135.37 352.18 136.03 352.15 136.7 352.13C137.37 352.11 138.03 352.09 138.7 352.06C139.37 352.04 140.03 352.02 140.7 352C141.37 351.98 142.03 351.96 142.7 351.95C143.37 351.93 144.03 351.91 144.7 351.89C145.37 351.88 146.03 351.86 146.7 351.85C147.37 351.83 148.03 351.82 148.7 351.81C149.37 351.8 150.03 351.78 150.7 351.77C151.37 351.76 152.03 351.75 152.7 351.74C153.37 351.73 154.03 351.72 154.7 351.72C155.37 351.71 156.03 351.7 156.7 351.69C157.37 351.69 158.03 351.68 158.7 351.68C159.37 351.67 160.03 351.67 160.7 351.67C161.37 351.66 162.03 351.66 162.7 351.66C163.37 351.66 164.03 351.66 164.7 351.66C165.37 351.65 166.03 351.66 166.7 351.66C167.37 351.66 168.03 351.66 168.7 351.66C169.37 351.66 170.03 351.67 170.7 351.67C171.37 351.68 172.03 351.68 172.7 351.69C173.37 351.69 174.03 351.7 174.7 351.7C175.37 351.71 176.03 351.72 176.7 351.73C177.37 351.73 178.03 351.74 178.7 351.75C179.37 351.76 180.03 351.77 180.7 351.78C181.37 351.79 182.03 351.8 182.7 351.81C183.37 351.82 184.03 351.84 184.7 351.85C185.37 351.86 186.03 351.88 186.7 351.89C187.37 351.9 188.03 351.92 188.7 351.93C189.37 351.95 190.03 351.96 190.7 351.98C191.37 352 192.03 352.01 192.7 352.03C193.37 352.05 194.03 352.06 194.7 352.08C195.37 352.1 196.03 352.12 196.7 352.14C197.37 352.16 198.03 352.18 198.7 352.2C199.37 352.22 200.03 352.24 200.7 352.26C201.37 352.28 202.03 352.3 202.7 352.32C203.37 352.35 204.03 352.37 204.7 352.39C205.37 352.41 206.03 352.44 206.7 352.46C207.37 352.48 208.03 352.51 208.7 352.53C209.37 352.56 210.03 352.58 210.7 352.61C211.37 352.63 212.03 352.66 212.7 352.69C213.37 352.71 214.03 352.74 214.7 352.77C215.37 352.79 216.03 352.82 216.7 352.85C217.37 352.87 218.03 352.9 218.7 352.93C219.37 352.96 220.03 352.99 220.7 353.02C221.37 353.05 222.03 353.07 222.7 353.1C223.37 353.13 224.03 353.16 224.7 353.19C225.37 353.22 226.03 353.25 226.7 353.29C227.37 353.32 228.03 353.35 228.7 353.38C229.37 353.41 230.03 353.44 230.7 353.47C231.37 353.5 232.03 353.54 232.7 353.57C233.37 353.6 234.03 353.63 234.7 353.67C235.37 353.7 236.03 353.73 236.7 353.76C237.37 353.8 238.03 353.83 238.7 353.86C239.37 353.9 240.03 353.93 240.7 353.97C241.37 354 242.03 354.03 242.7 354.07C243.37 354.1 244.03 354.14 244.7 354.17C245.37 354.21 246.03 354.24 246.7 354.28C247.37 354.31 248.03 354.35 248.7 354.38C249.37 354.42 250.03 354.45 250.7 354.49C251.37 354.52 252.03 354.56 252.7 354.6C253.37 354.63 254.03 354.67 254.7 354.71C255.37 354.75 256.03 354.79 256.7 354.83C257.37 354.87 258.03 354.91 258.7 354.96C259.37 355 260.03 355.04 260.7 355.09C261.37 355.14 262.03 355.18 262.7 355.23C263.37 355.28 264.03 355.33 264.7 355.39C265.37 355.44 266.03 355.49 266.7 355.55C267.37 355.61 268.03 355.66 268.7 355.73C269.37 355.79 270.03 355.85 270.7 355.91C271.37 355.98 272.03 356.05 272.7 356.12C273.37 356.19 274.03 356.26 274.7 356.34C275.37 356.41 276.03 356.49 276.7 356.57C277.37 356.66 278.03 356.74 278.7 356.83C279.37 356.92 280.03 357.01 280.7 357.1C281.37 357.2 282.03 357.3 282.7 357.4C283.37 357.5 284.03 357.6 284.7 357.71C285.37 357.82 286.03 357.93 286.7 358.05C287.37 358.17 288.03 358.29 288.7 358.41C289.37 358.54 290.03 358.67 290.7 358.8C291.37 358.93 292.03 359.07 292.7 359.21C293.37 359.36 294.03 359.5 294.7 359.65C295.37 359.8 296.03 359.96 296.7 360.12C297.37 360.28 298.03 360.45 298.7 360.62C299.37 360.79 300.03 360.97 300.7 361.15C301.37 361.33 302.03 361.52 302.7 361.71C303.37 361.9 304.03 362.1 304.7 362.3C305.37 362.51 306.03 362.72 306.7 362.93C307.37 363.15 308.03 363.37 308.7 363.6C309.37 363.82 310.03 364.06 310.7 364.3C311.37 364.54 312.03 364.78 312.7 365.03C313.37 365.29 314.03 365.55 314.7 365.81C315.37 366.08 316.03 366.35 316.7 366.63C317.37 366.91 318.03 367.19 318.7 367.48C319.37 367.78 320.03 368.08 320.7 368.38C321.37 368.69 322.03 369.01 322.7 369.33C323.37 369.65 324.03 369.98 324.7 370.32C325.37 370.65 326.03 371 326.7 371.35C327.37 371.7 328.03 372.06 328.7 372.43C329.37 372.8 330.03 373.17 330.7 373.56C331.37 373.94 332.03 374.34 332.7 374.74C333.37 375.14 334.03 375.55 334.7 375.96C335.37 376.38 336.37 377.03 336.7 377.24" fill="none" stroke="#d72c32" stroke-width="1.5" stroke-linejoin="round"/>
<path d="M38.7 434.45C39.03 434.11 40.03 433.09 40.7 432.39C41.37 431.7 42.03 430.99 42.7 430.29C43.37 429.58 44.03 428.87 44.7 428.15C45.37 427.43 46.03 426.71 46.7 425.98C47.37 425.25 48.03 424.52 48.7 423.79C49.37 423.05 50.03 422.32 50.7 421.58C51.37 420.84 52.03 420.1 52.7 419.36C53.37 418.62 54.03 417.88 54.7 417.13C55.37 416.39 56.03 415.65 56.7 414.91C57.37 414.17 58.03 413.43 58.7 412.69C59.37 411.95 60.03 411.22 60.7 410.48C61.37 409.75 62.03 409.02 62.7 408.3C63.37 407.57 64.03 406.85 64.7 406.13C65.37 405.42 66.03 404.7 66.7 404C67.37 403.29 68.03 402.59 68.7 401.9C69.37 401.21 70.03 400.52 70.7 399.84C71.37 399.16 72.03 398.49 72.7 397.83C73.37 397.17 74.03 396.52 74.7 395.87C75.37 395.23 76.03 394.6 76.7 393.98C77.37 393.36 78.03 392.74 78.7 392.15C79.37 391.55 80.03 390.96 80.7 390.38C81.37 389.81 82.03 389.25 82.7 388.7C83.37 388.15 84.03 387.62 84.7 387.1C85.37 386.58 86.03 386.07 86.7 385.58C87.37 385.09 88.03 384.62 88.7 384.16C89.37 383.7 90.03 383.25 90.7 382.82C91.37 382.39 92.03 381.97 92.7 381.56C93.37 381.16 94.03 380.77 94.7 380.39C95.37 380.01 96.03 379.64 96.7 379.29C97.37 378.93 98.03 378.59 98.7 378.26C99.37 377.93 100.03 377.61 100.7 377.31C101.37 377 102.03 376.7 102.7 376.42C103.37 376.13 104.03 375.86 104.7 375.59C105.37 375.33 106.03 375.07 106.7 374.83C107.37 374.58 108.03 374.35 108.7 374.12C109.37 373.89 110.03 373.68 110.7 373.47C111.37 373.26 112.03 373.06 112.7 372.87C113.37 372.68 114.03 372.49 114.7 372.32C115.37 372.14 116.03 371.97 116.7 371.81C117.37 371.65 118.03 371.49 118.7 371.35C119.37 371.2 120.03 371.06 120.7 370.92C121.37 370.78 122.03 370.65 122.7 370.53C123.37 370.41 124.03 370.29 124.7 370.17C125.37 370.06 126.03 369.95 126.7 369.85C127.37 369.74 128.03 369.64 128.7 369.54C129.37 369.45 130.03 369.36 130.7 369.27C131.37 369.18 132.03 369.09 132.7 369.01C133.37 368.93 134.03 368.85 134.7 368.77C135.37 368.69 136.03 368.62 136.7 368.54C137.37 368.47 138.03 368.4 138.7 368.33C139.37 368.26 140.03 368.2 140.7 368.13C141.37 368.07 142.03 368.01 142.7 367.95C143.37 367.89 144.03 367.83 144.7 367.77C145.37 367.72 146.03 367.66 146.7 367.61C147.37 367.56 148.03 367.51 148.7 367.46C149.37 367.41 150.03 367.37 150.7 367.32C151.37 367.28 152.03 367.24 152.7 367.2C153.37 367.16 154.03 367.12 154.7 367.08C155.37 367.05 156.03 367.01 156.7 366.98C157.37 366.95 158.03 366.92 158.7 366.89C159.37 366.86 160.03 366.83 160.7 366.81C161.37 366.78 162.03 366.76 162.7 366.73C163.37 366.71 164.03 366.69 164.7 366.67C165.37 366.65 166.03 366.63 166.7 366.62C167.37 366.6 168.03 366.58 168.7 366.57C169.37 366.56 170.03 366.55 170.7 366.54C171.37 366.52 172.03 366.52 172.7 366.51C173.37 366.5 174.03 366.49 174.7 366.49C175.37 366.48 176.03 366.48 176.7 366.48C177.37 366.47 178.03 366.47 178.7 366.47C179.37 366.47 180.03 366.47 180.7 366.48C181.37 366.48 182.03 366.48 182.7 366.49C183.37 366.49 184.03 366.5 184.7 366.5C185.37 366.51 186.03 366.52 186.7 366.53C187.37 366.53 188.03 366.54 188.7 366.55C189.37 366.56 190.03 366.58 190.7 366.59C191.37 366.6 192.03 366.61 192.7 366.63C193.37 366.64 194.03 366.66 194.7 366.67C195.37 366.69 196.03 366.71 196.7 366.72C197.37 366.74 198.03 366.76 198.7 366.78C199.37 366.8 200.03 366.82 200.7 366.84C201.37 366.86 202.03 366.88 202.7 366.9C203.37 366.92 204.03 366.94 204.7 366.97C205.37 366.99 206.03 367.01 206.7 367.03C207.37 367.06 208.03 367.08 208.7 367.11C209.37 367.13 210.03 367.16 210.7 367.18C211.37 367.21 212.03 367.23 212.7 367.26C213.37 367.28 214.03 367.31 214.7 367.34C215.37 367.36 216.03 367.39 216.7 367.42C217.37 367.45 218.03 367.47 218.7 367.5C219.37 367.53 220.03 367.56 220.7 367.58C221.37 367.61 222.03 367.64 222.7 367.67C223.37 367.7 224.03 367.73 224.7 367.75C225.37 367.78 226.03 367.81 226.7 367.84C227.37 367.87 228.03 367.9 228.7 367.92C229.37 367.95 230.03 367.98 230.7 368.01C231.37 368.04 232.03 368.06 232.7 368.09C233.37 368.12 234.03 368.15 234.7 368.17C235.37 368.2 236.03 368.23 236.7 368.26C237.37 368.28 238.03 368.31 238.7 368.34C239.37 368.36 240.03 368.39 240.7 368.41C241.37 368.44 242.03 368.46 242.7 368.49C243.37 368.51 244.03 368.54 244.7 368.56C245.37 368.59 246.03 368.61 246.7 368.63C247.37 368.66 248.03 368.68 248.7 368.7C249.37 368.72 250.03 368.74 250.7 368.77C251.37 368.79 252.03 368.81 252.7 368.83C253.37 368.85 254.03 368.87 254.7 368.9C255.37 368.92 256.03 368.94 256.7 368.96C257.37 368.99 258.03 369.01 258.7 369.04C259.37 369.06 260.03 369.09 260.7 369.11C261.37 369.14 262.03 369.17 262.7 369.19C263.37 369.22 264.03 369.25 264.7 369.28C265.37 369.32 266.03 369.35 266.7 369.38C267.37 369.42 268.03 369.45 268.7 369.49C269.37 369.53 270.03 369.57 270.7 369.61C271.37 369.65 272.03 369.7 272.7 369.74C273.37 369.79 274.03 369.84 274.7 369.89C275.37 369.94 276.03 370 276.7 370.06C277.37 370.11 278.03 370.17 278.7 370.24C279.37 370.3 280.03 370.36 280.7 370.43C281.37 370.5 282.03 370.58 282.7 370.65C283.37 370.73 284.03 370.81 284.7 370.89C285.37 370.97 286.03 371.06 286.7 371.15C287.37 371.24 288.03 371.34 288.7 371.44C289.37 371.54 290.03 371.64 290.7 371.75C291.37 371.85 292.03 371.97 292.7 372.08C293.37 372.2 294.03 372.32 294.7 372.45C295.37 372.57 296.03 372.7 296.7 372.84C297.37 372.97 298.03 373.11 298.7 373.26C299.37 373.41 300.03 373.56 300.7 373.72C301.37 373.88 302.03 374.04 302.7 374.21C303.37 374.39 304.03 374.56 304.7 374.75C305.37 374.94 306.03 375.13 306.7 375.34C307.37 375.54 308.03 375.75 308.7 375.97C309.37 376.19 310.03 376.42 310.7 376.66C311.37 376.9 312.03 377.15 312.7 377.41C313.37 377.67 314.03 377.94 314.7 378.23C315.37 378.51 316.03 378.8 316.7 379.11C317.37 379.42 318.03 379.73 318.7 380.06C319.37 380.39 320.03 380.74 320.7 381.09C321.37 381.45 322.03 381.82 322.7 382.21C323.37 382.59 324.03 382.99 324.7 383.4C325.37 383.81 326.03 384.24 326.7 384.69C327.37 385.13 328.03 385.59 328.7 386.06C329.37 386.54 330.03 387.03 330.7 387.54C331.37 388.05 332.03 388.58 332.7 389.12C333.37 389.66 334.03 390.22 334.7 390.8C335.37 391.38 336.37 392.3 336.7 392.6" fill="none" stroke="#4040ff" stroke-width="1.5" stroke-linejoin="round"/>
<path d="M425.5 505.8L426.7 509.9L430.4 514.8L434.1 521L436.6 526.6L441.5 533.4L445.9 539L449 544.5L455.1 553.2L462.6 561.2L466.3 566.2L470 569.3L472.7 572L475.4 576.9L477.6 578.7L480.9 580.7L486.3 586.7L491.8 591L497.2 595.4L503.7 600.1L508.1 601.6L513.5 603L517.9 604.4L524.4 605.9L531 605.9L535.3 607.7L540.7 609L546.2 609.5L560 609.5L566.8 609.5L572.2 611.5L575 610.2L588.6 609.9L592.7 608.4L596.7 608.1L600.8 603.4L603.5 604.7L606.3 608.8L609 610.2L628 610.2L633.5 608.1L636.2 610.6L651.2 609.6L662.1 610L670.8 610.5L675.1 612.2L688.2 612.2L692.5 611.6L705.6 612L723 611.6" fill="none" stroke="#1e1e1e" stroke-width="1.5" stroke-linejoin="round"/>
<path d="M425.8 488.8L426.7 492.5L429.5 499L433.2 503.6L437.8 506.8L443.4 508.2L450.8 508.4L454.5 506.4L458.2 504.1L463.8 500.8L467.5 499.4L472.2 498L476.8 495.3L482.4 491.1L492.5 487.5L500 482.4L503.7 479.9L509.9 478.1L517.3 474.6L522.3 474.1L529.7 472.1L537.1 470L548.2 467.9L559.4 467.9L566.8 466.7L575.4 465.2L579.9 465.1L584.9 463.5L614.6 463.5L619.5 462.4L624.5 462.6L629.4 463.6L662.4 463.5L682.1 463.8L688.3 466.3L695.7 467.6L700.7 470.4L706.9 471.6L714.3 475.8L720.5 481.2" fill="none" stroke="#ff8a20" stroke-width="1.5" stroke-linejoin="round"/>
<path d="M425.8 474.4L426.7 478.6L428.6 482.3L432.3 485.8L436.9 487.4L441.6 487.4L446.2 486L450.8 483.9L455.5 480.4L459.2 476.5L462.9 474.8L469.4 471.1L475.9 467.4L483 462L491 456.3L497.2 452.6L500 451.1L504.9 449.9L511.1 446.2L517.3 444.4L524.7 443.2L529.7 441L534.6 441L539.6 439.5L545.1 436.3L549.5 435L555.6 435L561.8 433.3L569.2 433.3L576.7 433.3L581.2 430.8L587.4 432.1L591.1 432.1L597.3 430.8L624.5 430.8L630.6 429.8L643 429.2L646.7 428.6L651 428.5L657 427.5L662.4 429.8L682.1 429.8L690.8 431.7L699.5 432.9L706.9 436.3L715.5 438.7L723.6 442.5" fill="none" stroke="#28d628" stroke-width="1.5" stroke-linejoin="round"/>
<path d="M425.5 430.9L426.5 437.1L427.3 444.5L429.2 449.5L431.7 452.6L434.7 453.8L439.1 451.7L442.8 450.1L445.3 446.4L447.7 443.5L451.4 440.8L455.1 435.9L458.9 430.3L460.7 424.7L465 416.7L469.4 413.6L471.8 409.3L474.9 405.9L478.6 401L480 398.4L484.9 388.5L491.1 379.2L494.8 375.5L497.3 371.4L502.3 367.2L508.4 361.9L515.9 356.6L520.8 355.7L525.7 352.6L531.9 351.4L538.1 350.4L544.3 349.5L549.2 348.6L555 348.6L561.5 347.8L565.3 347L569.1 347.8L575.1 347L593.1 347.5L596.4 348.6L600.7 349.1L609.4 349.7L620.3 349.7L622.5 348.3L629 347.5L644.3 347.1L661.4 346.7L672.9 347.1L681.4 346.1L690 345L701.4 345.7L707.1 348.6L713.6 352.9L717.1 358.6L720.7 363.6" fill="none" stroke="#d72c32" stroke-width="1.5" stroke-linejoin="round"/>
<path d="M425.5 449.5L426.1 458.1L427.9 463.2L430.4 466L433.5 467.7L437.8 466.8L442.2 464.7L446.5 461.2L451.4 455.6L455.1 449.5L460.1 442.7L466.3 434.6L472.5 426.6L478.6 419.2L480.5 416L486.2 408.9L492.4 402.1L499.8 390.9L507.2 382.3L514.6 374.2L517.1 370.5L522.7 363.7L529.5 360.6L534.4 358.2L536.9 358.2L541.8 354.5L548 352.4L554.2 350.1L561.5 349.1L568.1 348.9L575.1 347.2L593.1 347.2L598 346.1L602.9 347.2L620.3 347.2L631.2 346.4L638.6 347.6L645.7 348.1L654.3 347.1L661.4 346.1L667.1 348.6L675.7 350.7L684.3 352.9L690 354.3L697.1 358.1L704.3 362.1L708.6 367.1L715.7 378.6L720 390L723.6 402.1" fill="none" stroke="#4040ff" stroke-width="1.5" stroke-linejoin="round"/>
<path d="M38.3 1.5V273.4H337.1" fill="none" stroke="#222" stroke-width="1.5"/>
<path d="M38.3 260.9h6.7M38.3 178.27h6.7M38.3 95.64h6.7M38.3 13.01h6.7" stroke="#222" stroke-width="1.5"/>
<path d="M38.3 268.91h4M38.3 264.68h4M38.3 236.03h4M38.3 221.48h4M38.3 211.15h4M38.3 203.14h4M38.3 196.6h4M38.3 191.07h4M38.3 186.28h4M38.3 182.05h4M38.3 153.4h4M38.3 138.85h4M38.3 128.52h4M38.3 120.51h4M38.3 113.97h4M38.3 108.44h4M38.3 103.65h4M38.3 99.42h4M38.3 70.77h4M38.3 56.22h4M38.3 45.89h4M38.3 37.88h4M38.3 31.34h4M38.3 25.81h4M38.3 21.02h4M38.3 16.79h4" stroke="#6a6a6a" stroke-width="0.9"/>
<path d="M66.3 273.4v-6.7M120.46 273.4v-6.7M174.62 273.4v-6.7M228.78 273.4v-6.7M282.94 273.4v-6.7M337.1 273.4v-6.7" stroke="#222" stroke-width="1.5"/>
<path d="M44.75 273.4v-4M50 273.4v-4M54.28 273.4v-4M57.91 273.4v-4M61.05 273.4v-4M63.82 273.4v-4M82.6 273.4v-4M92.14 273.4v-4M98.91 273.4v-4M104.16 273.4v-4M108.44 273.4v-4M112.07 273.4v-4M115.21 273.4v-4M117.98 273.4v-4M136.76 273.4v-4M146.3 273.4v-4M153.07 273.4v-4M158.32 273.4v-4M162.6 273.4v-4M166.23 273.4v-4M169.37 273.4v-4M172.14 273.4v-4M190.92 273.4v-4M200.46 273.4v-4M207.23 273.4v-4M212.48 273.4v-4M216.76 273.4v-4M220.39 273.4v-4M223.53 273.4v-4M226.3 273.4v-4M245.08 273.4v-4M254.62 273.4v-4M261.39 273.4v-4M266.64 273.4v-4M270.92 273.4v-4M274.55 273.4v-4M277.69 273.4v-4M280.46 273.4v-4M299.24 273.4v-4M308.78 273.4v-4M315.55 273.4v-4M320.8 273.4v-4M325.08 273.4v-4M328.71 273.4v-4M331.85 273.4v-4M334.62 273.4v-4" stroke="#6a6a6a" stroke-width="0.9"/>
<text x="34" y="266" text-anchor="end" font-size="14.2">10<tspan dy="-7" font-size="8.6">1</tspan></text>
<text x="34" y="183.37" text-anchor="end" font-size="14.2">10<tspan dy="-7" font-size="8.6">2</tspan></text>
<text x="34" y="100.74" text-anchor="end" font-size="14.2">10<tspan dy="-7" font-size="8.6">3</tspan></text>
<text x="34" y="18.11" text-anchor="end" font-size="14.2">10<tspan dy="-7" font-size="8.6">4</tspan></text>
<text x="67.1" y="290.8" text-anchor="middle" font-size="14.2">10<tspan dy="-7" font-size="8.6">1</tspan></text>
<text x="121.26" y="290.8" text-anchor="middle" font-size="14.2">10<tspan dy="-7" font-size="8.6">2</tspan></text>
<text x="175.42" y="290.8" text-anchor="middle" font-size="14.2">10<tspan dy="-7" font-size="8.6">3</tspan></text>
<text x="229.58" y="290.8" text-anchor="middle" font-size="14.2">10<tspan dy="-7" font-size="8.6">4</tspan></text>
<text x="283.74" y="290.8" text-anchor="middle" font-size="14.2">10<tspan dy="-7" font-size="8.6">5</tspan></text>
<text x="337.9" y="290.8" text-anchor="middle" font-size="14.2">10<tspan dy="-7" font-size="8.6">6</tspan></text>
<text x="187.7" y="303.8" text-anchor="middle" font-size="12.6" font-weight="bold">R [km]</text>
<text transform="translate(10.4 137.45) rotate(-90)" text-anchor="middle" font-size="12.8" font-weight="bold">Temperature [K]</text>
<path d="M233 39.5H280.7" stroke="#1e1e1e" stroke-width="1.6"/>
<text x="289.3" y="43.1" font-size="10" font-weight="bold">H2O</text>
<path d="M233 52.4H280.7" stroke="#ff8a20" stroke-width="1.6"/>
<text x="289.3" y="56" font-size="10" font-weight="bold">OH</text>
<path d="M233 65.2H280.7" stroke="#28d628" stroke-width="1.6"/>
<text x="289.3" y="68.8" font-size="10" font-weight="bold">O</text>
<path d="M233 78H280.7" stroke="#d72c32" stroke-width="1.6"/>
<text x="289.3" y="81.6" font-size="10" font-weight="bold">H</text>
<path d="M233 90.6H280.7" stroke="#4040ff" stroke-width="1.6"/>
<text x="289.3" y="94.2" font-size="10" font-weight="bold">H2</text>
<path d="M425.3 1.5V273.4H723.9" fill="none" stroke="#222" stroke-width="1.5"/>
<path d="M425.3 260.9h6.7M425.3 178.27h6.7M425.3 95.64h6.7M425.3 13.01h6.7" stroke="#222" stroke-width="1.5"/>
<path d="M425.3 268.91h4M425.3 264.68h4M425.3 236.03h4M425.3 221.48h4M425.3 211.15h4M425.3 203.14h4M425.3 196.6h4M425.3 191.07h4M425.3 186.28h4M425.3 182.05h4M425.3 153.4h4M425.3 138.85h4M425.3 128.52h4M425.3 120.51h4M425.3 113.97h4M425.3 108.44h4M425.3 103.65h4M425.3 99.42h4M425.3 70.77h4M425.3 56.22h4M425.3 45.89h4M425.3 37.88h4M425.3 31.34h4M425.3 25.81h4M425.3 21.02h4M425.3 16.79h4" stroke="#6a6a6a" stroke-width="0.9"/>
<path d="M461.4 273.4v-6.7M513.85 273.4v-6.7M566.3 273.4v-6.7M618.75 273.4v-6.7M671.2 273.4v-6.7M723.65 273.4v-6.7" stroke="#222" stroke-width="1.5"/>
<path d="M433.98 273.4v-4M440.53 273.4v-4M445.61 273.4v-4M449.76 273.4v-4M453.28 273.4v-4M456.32 273.4v-4M459 273.4v-4M477.19 273.4v-4M486.43 273.4v-4M492.98 273.4v-4M498.06 273.4v-4M502.21 273.4v-4M505.73 273.4v-4M508.77 273.4v-4M511.45 273.4v-4M529.64 273.4v-4M538.88 273.4v-4M545.43 273.4v-4M550.51 273.4v-4M554.66 273.4v-4M558.18 273.4v-4M561.22 273.4v-4M563.9 273.4v-4M582.09 273.4v-4M591.33 273.4v-4M597.88 273.4v-4M602.96 273.4v-4M607.11 273.4v-4M610.63 273.4v-4M613.67 273.4v-4M616.35 273.4v-4M634.54 273.4v-4M643.78 273.4v-4M650.33 273.4v-4M655.41 273.4v-4M659.56 273.4v-4M663.08 273.4v-4M666.12 273.4v-4M668.8 273.4v-4M686.99 273.4v-4M696.23 273.4v-4M702.78 273.4v-4M707.86 273.4v-4M712.01 273.4v-4M715.53 273.4v-4M718.57 273.4v-4M721.25 273.4v-4" stroke="#6a6a6a" stroke-width="0.9"/>
<text x="421" y="266" text-anchor="end" font-size="14.2">10<tspan dy="-7" font-size="8.6">1</tspan></text>
<text x="421" y="183.37" text-anchor="end" font-size="14.2">10<tspan dy="-7" font-size="8.6">2</tspan></text>
<text x="421" y="100.74" text-anchor="end" font-size="14.2">10<tspan dy="-7" font-size="8.6">3</tspan></text>
<text x="421" y="18.11" text-anchor="end" font-size="14.2">10<tspan dy="-7" font-size="8.6">4</tspan></text>
<text x="462.2" y="289.1" text-anchor="middle" font-size="14.2">10<tspan dy="-7" font-size="8.6">1</tspan></text>
<text x="514.65" y="289.1" text-anchor="middle" font-size="14.2">10<tspan dy="-7" font-size="8.6">2</tspan></text>
<text x="567.1" y="289.1" text-anchor="middle" font-size="14.2">10<tspan dy="-7" font-size="8.6">3</tspan></text>
<text x="619.55" y="289.1" text-anchor="middle" font-size="14.2">10<tspan dy="-7" font-size="8.6">4</tspan></text>
<text x="672" y="289.1" text-anchor="middle" font-size="14.2">10<tspan dy="-7" font-size="8.6">5</tspan></text>
<text x="724.45" y="289.1" text-anchor="middle" font-size="14.2">10<tspan dy="-7" font-size="8.6">6</tspan></text>
<text x="574.6" y="300.3" text-anchor="middle" font-size="12.6" font-weight="bold">R [km]</text>
<text transform="translate(397.4 137.45) rotate(-90)" text-anchor="middle" font-size="12.8" font-weight="bold">Temperature [K]</text>
<path d="M619 29.6H666.3" stroke="#1e1e1e" stroke-width="1.6"/>
<text x="674.7" y="33.2" font-size="10" font-weight="bold">H2O</text>
<path d="M619 42.3H666.3" stroke="#ff8a20" stroke-width="1.6"/>
<text x="674.7" y="45.9" font-size="10" font-weight="bold">OH</text>
<path d="M619 55.2H666.3" stroke="#28d628" stroke-width="1.6"/>
<text x="674.7" y="58.8" font-size="10" font-weight="bold">O</text>
<path d="M619 67.9H666.3" stroke="#d72c32" stroke-width="1.6"/>
<text x="674.7" y="71.5" font-size="10" font-weight="bold">H</text>
<path d="M619 80.5H666.3" stroke="#4040ff" stroke-width="1.6"/>
<text x="674.7" y="84.1" font-size="10" font-weight="bold">H2</text>
<path d="M38.3 340.5V612.4H337.1" fill="none" stroke="#222" stroke-width="1.5"/>
<path d="M38.3 599.9h6.7M38.3 517.27h6.7M38.3 434.64h6.7M38.3 352.01h6.7" stroke="#222" stroke-width="1.5"/>
<path d="M38.3 607.91h4M38.3 603.68h4M38.3 575.03h4M38.3 560.48h4M38.3 550.15h4M38.3 542.14h4M38.3 535.6h4M38.3 530.07h4M38.3 525.28h4M38.3 521.05h4M38.3 492.4h4M38.3 477.85h4M38.3 467.52h4M38.3 459.51h4M38.3 452.97h4M38.3 447.44h4M38.3 442.65h4M38.3 438.42h4M38.3 409.77h4M38.3 395.22h4M38.3 384.89h4M38.3 376.88h4M38.3 370.34h4M38.3 364.81h4M38.3 360.02h4M38.3 355.79h4" stroke="#6a6a6a" stroke-width="0.9"/>
<path d="M66.3 612.4v-6.7M120.46 612.4v-6.7M174.62 612.4v-6.7M228.78 612.4v-6.7M282.94 612.4v-6.7M337.1 612.4v-6.7" stroke="#222" stroke-width="1.5"/>
<path d="M44.75 612.4v-4M50 612.4v-4M54.28 612.4v-4M57.91 612.4v-4M61.05 612.4v-4M63.82 612.4v-4M82.6 612.4v-4M92.14 612.4v-4M98.91 612.4v-4M104.16 612.4v-4M108.44 612.4v-4M112.07 612.4v-4M115.21 612.4v-4M117.98 612.4v-4M136.76 612.4v-4M146.3 612.4v-4M153.07 612.4v-4M158.32 612.4v-4M162.6 612.4v-4M166.23 612.4v-4M169.37 612.4v-4M172.14 612.4v-4M190.92 612.4v-4M200.46 612.4v-4M207.23 612.4v-4M212.48 612.4v-4M216.76 612.4v-4M220.39 612.4v-4M223.53 612.4v-4M226.3 612.4v-4M245.08 612.4v-4M254.62 612.4v-4M261.39 612.4v-4M266.64 612.4v-4M270.92 612.4v-4M274.55 612.4v-4M277.69 612.4v-4M280.46 612.4v-4M299.24 612.4v-4M308.78 612.4v-4M315.55 612.4v-4M320.8 612.4v-4M325.08 612.4v-4M328.71 612.4v-4M331.85 612.4v-4M334.62 612.4v-4" stroke="#6a6a6a" stroke-width="0.9"/>
<text x="34" y="605" text-anchor="end" font-size="14.2">10<tspan dy="-7" font-size="8.6">1</tspan></text>
<text x="34" y="522.37" text-anchor="end" font-size="14.2">10<tspan dy="-7" font-size="8.6">2</tspan></text>
<text x="34" y="439.74" text-anchor="end" font-size="14.2">10<tspan dy="-7" font-size="8.6">3</tspan></text>
<text x="34" y="357.11" text-anchor="end" font-size="14.2">10<tspan dy="-7" font-size="8.6">4</tspan></text>
<text x="67.1" y="629.8" text-anchor="middle" font-size="14.2">10<tspan dy="-7" font-size="8.6">1</tspan></text>
<text x="121.26" y="629.8" text-anchor="middle" font-size="14.2">10<tspan dy="-7" font-size="8.6">2</tspan></text>
<text x="175.42" y="629.8" text-anchor="middle" font-size="14.2">10<tspan dy="-7" font-size="8.6">3</tspan></text>
<text x="229.58" y="629.8" text-anchor="middle" font-size="14.2">10<tspan dy="-7" font-size="8.6">4</tspan></text>
<text x="283.74" y="629.8" text-anchor="middle" font-size="14.2">10<tspan dy="-7" font-size="8.6">5</tspan></text>
<text x="337.9" y="629.8" text-anchor="middle" font-size="14.2">10<tspan dy="-7" font-size="8.6">6</tspan></text>
<text x="187.7" y="642.8" text-anchor="middle" font-size="12.6" font-weight="bold">R [km]</text>
<text transform="translate(10.4 476.45) rotate(-90)" text-anchor="middle" font-size="12.8" font-weight="bold">Temperature [K]</text>
<path d="M233 378.5H280.7" stroke="#1e1e1e" stroke-width="1.6"/>
<text x="289.3" y="382.1" font-size="10" font-weight="bold">H2O</text>
<path d="M233 391.4H280.7" stroke="#ff8a20" stroke-width="1.6"/>
<text x="289.3" y="395" font-size="10" font-weight="bold">OH</text>
<path d="M233 404.2H280.7" stroke="#28d628" stroke-width="1.6"/>
<text x="289.3" y="407.8" font-size="10" font-weight="bold">O</text>
<path d="M233 417H280.7" stroke="#d72c32" stroke-width="1.6"/>
<text x="289.3" y="420.6" font-size="10" font-weight="bold">H</text>
<path d="M233 429.6H280.7" stroke="#4040ff" stroke-width="1.6"/>
<text x="289.3" y="433.2" font-size="10" font-weight="bold">H2</text>
<path d="M425.3 340.5V612.4H723.9" fill="none" stroke="#222" stroke-width="1.5"/>
<path d="M425.3 599.9h6.7M425.3 517.27h6.7M425.3 434.64h6.7M425.3 352.01h6.7" stroke="#222" stroke-width="1.5"/>
<path d="M425.3 607.91h4M425.3 603.68h4M425.3 575.03h4M425.3 560.48h4M425.3 550.15h4M425.3 542.14h4M425.3 535.6h4M425.3 530.07h4M425.3 525.28h4M425.3 521.05h4M425.3 492.4h4M425.3 477.85h4M425.3 467.52h4M425.3 459.51h4M425.3 452.97h4M425.3 447.44h4M425.3 442.65h4M425.3 438.42h4M425.3 409.77h4M425.3 395.22h4M425.3 384.89h4M425.3 376.88h4M425.3 370.34h4M425.3 364.81h4M425.3 360.02h4M425.3 355.79h4" stroke="#6a6a6a" stroke-width="0.9"/>
<path d="M461.4 612.4v-6.7M513.85 612.4v-6.7M566.3 612.4v-6.7M618.75 612.4v-6.7M671.2 612.4v-6.7M723.65 612.4v-6.7" stroke="#222" stroke-width="1.5"/>
<path d="M433.98 612.4v-4M440.53 612.4v-4M445.61 612.4v-4M449.76 612.4v-4M453.28 612.4v-4M456.32 612.4v-4M459 612.4v-4M477.19 612.4v-4M486.43 612.4v-4M492.98 612.4v-4M498.06 612.4v-4M502.21 612.4v-4M505.73 612.4v-4M508.77 612.4v-4M511.45 612.4v-4M529.64 612.4v-4M538.88 612.4v-4M545.43 612.4v-4M550.51 612.4v-4M554.66 612.4v-4M558.18 612.4v-4M561.22 612.4v-4M563.9 612.4v-4M582.09 612.4v-4M591.33 612.4v-4M597.88 612.4v-4M602.96 612.4v-4M607.11 612.4v-4M610.63 612.4v-4M613.67 612.4v-4M616.35 612.4v-4M634.54 612.4v-4M643.78 612.4v-4M650.33 612.4v-4M655.41 612.4v-4M659.56 612.4v-4M663.08 612.4v-4M666.12 612.4v-4M668.8 612.4v-4M686.99 612.4v-4M696.23 612.4v-4M702.78 612.4v-4M707.86 612.4v-4M712.01 612.4v-4M715.53 612.4v-4M718.57 612.4v-4M721.25 612.4v-4" stroke="#6a6a6a" stroke-width="0.9"/>
<text x="421" y="605" text-anchor="end" font-size="14.2">10<tspan dy="-7" font-size="8.6">1</tspan></text>
<text x="421" y="522.37" text-anchor="end" font-size="14.2">10<tspan dy="-7" font-size="8.6">2</tspan></text>
<text x="421" y="439.74" text-anchor="end" font-size="14.2">10<tspan dy="-7" font-size="8.6">3</tspan></text>
<text x="421" y="357.11" text-anchor="end" font-size="14.2">10<tspan dy="-7" font-size="8.6">4</tspan></text>
<text x="462.2" y="628.1" text-anchor="middle" font-size="14.2">10<tspan dy="-7" font-size="8.6">1</tspan></text>
<text x="514.65" y="628.1" text-anchor="middle" font-size="14.2">10<tspan dy="-7" font-size="8.6">2</tspan></text>
<text x="567.1" y="628.1" text-anchor="middle" font-size="14.2">10<tspan dy="-7" font-size="8.6">3</tspan></text>
<text x="619.55" y="628.1" text-anchor="middle" font-size="14.2">10<tspan dy="-7" font-size="8.6">4</tspan></text>
<text x="672" y="628.1" text-anchor="middle" font-size="14.2">10<tspan dy="-7" font-size="8.6">5</tspan></text>
<text x="724.45" y="628.1" text-anchor="middle" font-size="14.2">10<tspan dy="-7" font-size="8.6">6</tspan></text>
<text x="574.6" y="639.3" text-anchor="middle" font-size="12.6" font-weight="bold">R [km]</text>
<text transform="translate(397.4 476.45) rotate(-90)" text-anchor="middle" font-size="12.8" font-weight="bold">Temperature [K]</text>
<path d="M619 368.6H666.3" stroke="#1e1e1e" stroke-width="1.6"/>
<text x="674.7" y="372.2" font-size="10" font-weight="bold">H2O</text>
<path d="M619 381.3H666.3" stroke="#ff8a20" stroke-width="1.6"/>
<text x="674.7" y="384.9" font-size="10" font-weight="bold">OH</text>
<path d="M619 394.2H666.3" stroke="#28d628" stroke-width="1.6"/>
<text x="674.7" y="397.8" font-size="10" font-weight="bold">O</text>
<path d="M619 406.9H666.3" stroke="#d72c32" stroke-width="1.6"/>
<text x="674.7" y="410.5" font-size="10" font-weight="bold">H</text>
<path d="M619 419.5H666.3" stroke="#4040ff" stroke-width="1.6"/>
<text x="674.7" y="423.1" font-size="10" font-weight="bold">H2</text>
</svg>
</body></html>
